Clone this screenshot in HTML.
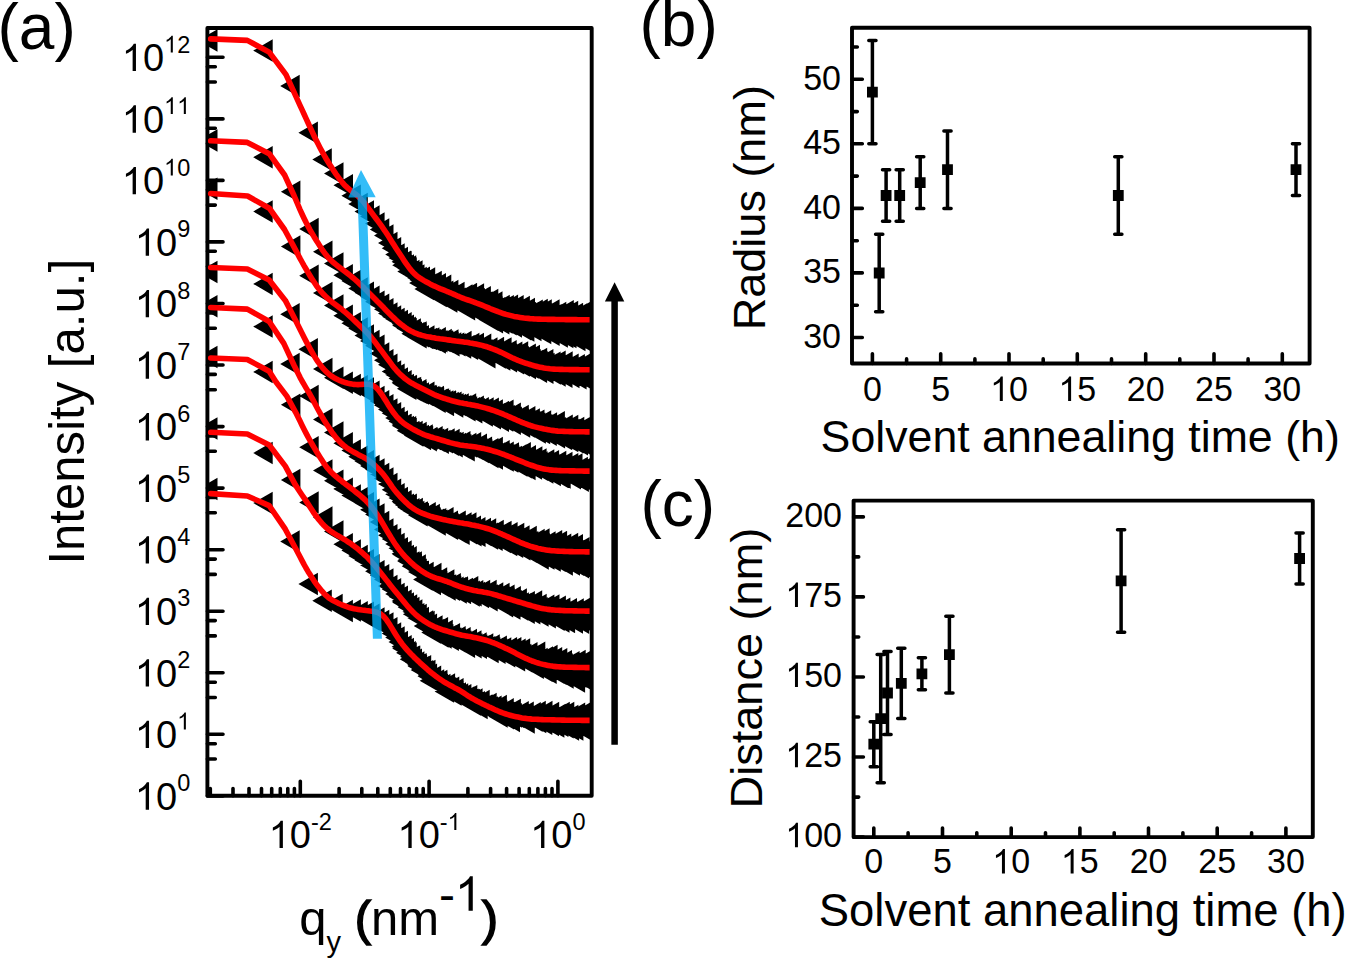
<!DOCTYPE html><html><head><meta charset="utf-8"><style>html,body{margin:0;padding:0;background:#fff;overflow:hidden}svg{display:block}</style></head><body><svg width="1346" height="959" viewBox="0 0 1346 959" font-family="Liberation Sans, sans-serif" fill="#000">
<rect width="1346" height="959" fill="#fff"/>
<defs><clipPath id="ca"><rect x="207.4" y="28.0" width="384.30000000000007" height="767.8"/></clipPath><clipPath id="cr"><rect x="200" y="28.0" width="389.6" height="767.8"/></clipPath></defs>
<path d="M207.4,795.9H223.0 M207.4,734.3H223.0 M207.4,743.7H215.3 M207.4,759.0H215.3 M207.4,672.8H223.0 M207.4,682.2H215.3 M207.4,697.5H215.3 M207.4,611.2H223.0 M207.4,620.6H215.3 M207.4,635.9H215.3 M207.4,549.7H223.0 M207.4,559.1H215.3 M207.4,574.4H215.3 M207.4,488.1H223.0 M207.4,497.5H215.3 M207.4,512.8H215.3 M207.4,426.6H223.0 M207.4,436.0H215.3 M207.4,451.3H215.3 M207.4,365.0H223.0 M207.4,374.4H215.3 M207.4,389.7H215.3 M207.4,303.5H223.0 M207.4,312.9H215.3 M207.4,328.2H215.3 M207.4,241.9H223.0 M207.4,251.3H215.3 M207.4,266.6H215.3 M207.4,180.4H223.0 M207.4,189.8H215.3 M207.4,205.1H215.3 M207.4,118.9H223.0 M207.4,128.3H215.3 M207.4,143.6H215.3 M207.4,57.3H223.0 M207.4,66.7H215.3 M207.4,82.0H215.3 M210.3,795.8V788.5 M233.0,795.8V788.5 M249.0,795.8V788.5 M261.5,795.8V788.5 M271.7,795.8V788.5 M280.3,795.8V788.5 M287.8,795.8V788.5 M294.4,795.8V788.5 M300.3,795.8V781.2 M339.1,795.8V788.5 M361.8,795.8V788.5 M377.8,795.8V788.5 M390.3,795.8V788.5 M400.5,795.8V788.5 M409.1,795.8V788.5 M416.6,795.8V788.5 M423.2,795.8V788.5 M429.1,795.8V781.2 M467.9,795.8V788.5 M490.6,795.8V788.5 M506.6,795.8V788.5 M519.1,795.8V788.5 M529.3,795.8V788.5 M537.9,795.8V788.5 M545.4,795.8V788.5 M552.0,795.8V788.5 M557.9,795.8V781.2 M852.0,337.5H862.3 M852.0,272.9H862.3 M852.0,208.4H862.3 M852.0,143.8H862.3 M852.0,79.3H862.3 M852.0,305.2H857.3 M852.0,240.7H857.3 M852.0,176.1H857.3 M852.0,111.6H857.3 M852.0,47.0H857.3 M872.4,363.5V353.7 M940.7,363.5V353.7 M1009.0,363.5V353.7 M1077.3,363.5V353.7 M1145.7,363.5V353.7 M1214.0,363.5V353.7 M1282.3,363.5V353.7 M906.6,363.5V358.9 M974.9,363.5V358.9 M1043.2,363.5V358.9 M1111.5,363.5V358.9 M1179.8,363.5V358.9 M1248.1,363.5V358.9 M853.6,837.1H863.4 M853.6,757.0H863.4 M853.6,677.0H863.4 M853.6,596.9H863.4 M853.6,516.9H863.4 M853.6,797.1H858.7 M853.6,717.0H858.7 M853.6,637.0H858.7 M853.6,556.9H858.7 M873.8,837.1V828.0 M942.5,837.1V828.0 M1011.2,837.1V828.0 M1079.9,837.1V828.0 M1148.5,837.1V828.0 M1217.2,837.1V828.0 M1285.9,837.1V828.0 M908.1,837.1V832.7 M976.8,837.1V832.7 M1045.5,837.1V832.7 M1114.2,837.1V832.7 M1182.9,837.1V832.7 M1251.6,837.1V832.7" stroke="#000" stroke-width="3.6" stroke-linecap="round" fill="none"/>
<path d="M207.4,28.0H591.7V795.8H207.4Z M852.0,27.7H1309.6V363.5H852.0Z M853.6,500.6H1312.8V837.1H853.6Z" stroke="#000" stroke-width="3.9" stroke-linejoin="round" fill="none"/>
<g clip-path="url(#ca)"><path d="M198.0,40.5l19.5,-11.25v22.5z M253.2,50.6l19.5,-11.25v22.5z M280.2,86.1l19.5,-11.25v22.5z M298.4,132.8l19.5,-11.25v22.5z M312.3,159.4l19.5,-11.25v22.5z M324.0,173.6l19.5,-11.25v22.5z M333.5,185.3l19.5,-11.25v22.5z M341.4,195.7l19.5,-11.25v22.5z M348.3,204.0l19.5,-11.25v22.5z M354.5,211.6l19.5,-11.25v22.5z M360.1,216.4l19.5,-11.25v22.5z M365.1,223.4l19.5,-11.25v22.5z M369.8,229.4l19.5,-11.25v22.5z M374.0,235.6l19.5,-11.25v22.5z M378.0,243.1l19.5,-11.25v22.5z M381.7,248.3l19.5,-11.25v22.5z M385.2,254.4l19.5,-11.25v22.5z M388.5,258.1l19.5,-11.25v22.5z M391.6,261.7l19.5,-11.25v22.5z M394.5,265.6l19.5,-11.25v22.5z M394.5,265.6l19.5,-11.25v22.5z M397.3,268.4l19.5,-11.25v22.5z M397.3,268.4l19.5,-11.25v22.5z M400.0,271.0l19.5,-11.25v22.5z M400.0,271.0l19.5,-11.25v22.5z M402.5,273.5l19.5,-11.25v22.5z M402.5,273.5l19.5,-11.25v22.5z M404.9,275.9l19.5,-11.25v22.5z M404.9,275.9l19.5,-11.25v22.5z M407.3,278.0l19.5,-11.25v22.5z M407.3,278.0l19.5,-11.25v22.5z M409.5,279.9l19.5,-11.25v22.5z M409.5,279.9l19.5,-11.25v22.5z M413.7,282.9l19.5,-11.25v22.5z M413.7,283.0l19.5,-11.25v22.5z M417.6,284.4l19.5,-11.25v22.5z M417.6,286.3l19.5,-11.25v22.5z M421.3,285.5l19.5,-11.25v22.5z M421.3,289.0l19.5,-11.25v22.5z M424.7,286.7l19.5,-11.25v22.5z M424.7,291.2l19.5,-11.25v22.5z M428.0,288.0l19.5,-11.25v22.5z M428.0,292.7l19.5,-11.25v22.5z M431.0,289.7l19.5,-11.25v22.5z M431.0,294.0l19.5,-11.25v22.5z M433.9,291.7l19.5,-11.25v22.5z M433.9,295.2l19.5,-11.25v22.5z M436.7,294.0l19.5,-11.25v22.5z M436.7,296.3l19.5,-11.25v22.5z M439.3,296.0l19.5,-11.25v22.5z M439.3,297.3l19.5,-11.25v22.5z M441.8,297.4l19.5,-11.25v22.5z M441.8,298.2l19.5,-11.25v22.5z M444.2,298.3l19.5,-11.25v22.5z M444.2,299.2l19.5,-11.25v22.5z M446.5,298.7l19.5,-11.25v22.5z M446.5,300.1l19.5,-11.25v22.5z M448.7,298.8l19.5,-11.25v22.5z M448.7,300.9l19.5,-11.25v22.5z M451.9,298.6l19.5,-11.25v22.5z M451.9,302.2l19.5,-11.25v22.5z M454.9,298.3l19.5,-11.25v22.5z M454.9,303.5l19.5,-11.25v22.5z M457.7,298.1l19.5,-11.25v22.5z M457.7,304.7l19.5,-11.25v22.5z M460.4,298.2l19.5,-11.25v22.5z M460.4,306.0l19.5,-11.25v22.5z M463.0,298.5l19.5,-11.25v22.5z M463.0,307.2l19.5,-11.25v22.5z M465.5,299.2l19.5,-11.25v22.5z M465.5,308.5l19.5,-11.25v22.5z M467.9,300.0l19.5,-11.25v22.5z M467.9,309.7l19.5,-11.25v22.5z M470.1,301.1l19.5,-11.25v22.5z M470.1,310.9l19.5,-11.25v22.5z M473.0,302.5l19.5,-11.25v22.5z M473.0,312.4l19.5,-11.25v22.5z M475.8,303.9l19.5,-11.25v22.5z M475.8,313.7l19.5,-11.25v22.5z M478.4,305.3l19.5,-11.25v22.5z M478.4,314.8l19.5,-11.25v22.5z M480.9,306.5l19.5,-11.25v22.5z M480.9,315.8l19.5,-11.25v22.5z M483.3,307.5l19.5,-11.25v22.5z M483.3,316.5l19.5,-11.25v22.5z M485.6,308.3l19.5,-11.25v22.5z M485.6,317.2l19.5,-11.25v22.5z M487.8,308.9l19.5,-11.25v22.5z M487.8,317.8l19.5,-11.25v22.5z M490.4,309.5l19.5,-11.25v22.5z M490.4,318.6l19.5,-11.25v22.5z M492.9,310.0l19.5,-11.25v22.5z M492.9,319.3l19.5,-11.25v22.5z M495.3,310.4l19.5,-11.25v22.5z M495.3,320.0l19.5,-11.25v22.5z M497.6,310.7l19.5,-11.25v22.5z M497.6,320.7l19.5,-11.25v22.5z M499.8,311.0l19.5,-11.25v22.5z M499.8,321.3l19.5,-11.25v22.5z M502.4,311.4l19.5,-11.25v22.5z M502.4,322.0l19.5,-11.25v22.5z M504.8,311.7l19.5,-11.25v22.5z M504.8,322.6l19.5,-11.25v22.5z M507.2,312.0l19.5,-11.25v22.5z M507.2,323.2l19.5,-11.25v22.5z M509.4,312.3l19.5,-11.25v22.5z M509.4,323.8l19.5,-11.25v22.5z M511.9,312.5l19.5,-11.25v22.5z M511.9,324.4l19.5,-11.25v22.5z M514.3,312.8l19.5,-11.25v22.5z M514.3,324.9l19.5,-11.25v22.5z M516.6,313.0l19.5,-11.25v22.5z M516.6,325.4l19.5,-11.25v22.5z M518.8,313.3l19.5,-11.25v22.5z M518.8,325.9l19.5,-11.25v22.5z M521.3,313.5l19.5,-11.25v22.5z M521.3,326.4l19.5,-11.25v22.5z M523.6,313.7l19.5,-11.25v22.5z M523.6,326.9l19.5,-11.25v22.5z M525.8,313.9l19.5,-11.25v22.5z M525.8,327.3l19.5,-11.25v22.5z M528.2,314.1l19.5,-11.25v22.5z M528.2,327.8l19.5,-11.25v22.5z M530.5,314.3l19.5,-11.25v22.5z M530.5,328.3l19.5,-11.25v22.5z M532.8,314.5l19.5,-11.25v22.5z M532.8,328.7l19.5,-11.25v22.5z M535.1,314.7l19.5,-11.25v22.5z M535.1,329.2l19.5,-11.25v22.5z M537.4,314.9l19.5,-11.25v22.5z M537.4,329.6l19.5,-11.25v22.5z M539.8,315.1l19.5,-11.25v22.5z M539.8,330.1l19.5,-11.25v22.5z M542.1,315.3l19.5,-11.25v22.5z M542.1,330.6l19.5,-11.25v22.5z M544.3,315.5l19.5,-11.25v22.5z M544.3,331.0l19.5,-11.25v22.5z M546.6,315.7l19.5,-11.25v22.5z M546.6,331.5l19.5,-11.25v22.5z M548.8,315.8l19.5,-11.25v22.5z M548.8,331.9l19.5,-11.25v22.5z M551.1,316.0l19.5,-11.25v22.5z M551.1,332.4l19.5,-11.25v22.5z M553.3,316.2l19.5,-11.25v22.5z M553.3,332.9l19.5,-11.25v22.5z M555.6,316.4l19.5,-11.25v22.5z M555.6,333.4l19.5,-11.25v22.5z M557.8,316.6l19.5,-11.25v22.5z M557.8,333.9l19.5,-11.25v22.5z M560.1,316.8l19.5,-11.25v22.5z M560.1,334.5l19.5,-11.25v22.5z M562.4,317.0l19.5,-11.25v22.5z M562.4,326.0l19.5,-11.25v22.5z M562.4,335.0l19.5,-11.25v22.5z M564.7,317.2l19.5,-11.25v22.5z M564.7,326.4l19.5,-11.25v22.5z M564.7,335.6l19.5,-11.25v22.5z M566.9,317.5l19.5,-11.25v22.5z M566.9,326.8l19.5,-11.25v22.5z M566.9,336.2l19.5,-11.25v22.5z M569.2,317.7l19.5,-11.25v22.5z M569.2,327.3l19.5,-11.25v22.5z M569.2,336.8l19.5,-11.25v22.5z M571.5,317.9l19.5,-11.25v22.5z M571.5,327.7l19.5,-11.25v22.5z M571.5,337.5l19.5,-11.25v22.5z M573.7,318.0l19.5,-11.25v22.5z M573.7,327.9l19.5,-11.25v22.5z M573.7,337.8l19.5,-11.25v22.5z M576.0,318.0l19.5,-11.25v22.5z M576.0,327.9l19.5,-11.25v22.5z M576.0,337.8l19.5,-11.25v22.5z M578.3,318.0l19.5,-11.25v22.5z M578.3,327.9l19.5,-11.25v22.5z M578.3,337.8l19.5,-11.25v22.5z M580.5,318.0l19.5,-11.25v22.5z M580.5,327.9l19.5,-11.25v22.5z M580.5,337.8l19.5,-11.25v22.5z M582.7,318.0l19.5,-11.25v22.5z M582.7,327.9l19.5,-11.25v22.5z M582.7,337.8l19.5,-11.25v22.5z M584.9,318.0l19.5,-11.25v22.5z M584.9,327.9l19.5,-11.25v22.5z M584.9,337.8l19.5,-11.25v22.5z M392.2,262.2l19.5,-11.25v22.5z M392.2,265.3l19.5,-11.25v22.5z M396.7,266.6l19.5,-11.25v22.5z M397.3,271.4l19.5,-11.25v22.5z M403.1,271.4l19.5,-11.25v22.5z M405.0,275.5l19.5,-11.25v22.5z M410.5,277.7l19.5,-11.25v22.5z M409.1,283.1l19.5,-11.25v22.5z M415.7,278.5l19.5,-11.25v22.5z M414.4,289.1l19.5,-11.25v22.5z M422.3,282.1l19.5,-11.25v22.5z M422.5,292.5l19.5,-11.25v22.5z M426.5,284.2l19.5,-11.25v22.5z M427.2,295.9l19.5,-11.25v22.5z M431.8,285.7l19.5,-11.25v22.5z M431.6,297.8l19.5,-11.25v22.5z M438.9,290.9l19.5,-11.25v22.5z M437.9,301.5l19.5,-11.25v22.5z M445.1,293.1l19.5,-11.25v22.5z M446.0,302.9l19.5,-11.25v22.5z M453.0,295.6l19.5,-11.25v22.5z M452.6,307.6l19.5,-11.25v22.5z M457.6,294.0l19.5,-11.25v22.5z M455.7,309.3l19.5,-11.25v22.5z M464.6,294.5l19.5,-11.25v22.5z M466.1,311.6l19.5,-11.25v22.5z M471.4,297.2l19.5,-11.25v22.5z M471.7,315.6l19.5,-11.25v22.5z M478.8,299.9l19.5,-11.25v22.5z M478.7,319.7l19.5,-11.25v22.5z M483.0,302.6l19.5,-11.25v22.5z M483.6,322.2l19.5,-11.25v22.5z M490.3,306.1l19.5,-11.25v22.5z M489.9,323.3l19.5,-11.25v22.5z M494.4,306.2l19.5,-11.25v22.5z M493.1,322.6l19.5,-11.25v22.5z M498.6,305.8l19.5,-11.25v22.5z M497.2,324.3l19.5,-11.25v22.5z M504.2,306.2l19.5,-11.25v22.5z M502.5,326.4l19.5,-11.25v22.5z M510.4,306.9l19.5,-11.25v22.5z M511.7,329.3l19.5,-11.25v22.5z M515.5,309.0l19.5,-11.25v22.5z M514.9,330.6l19.5,-11.25v22.5z M523.3,310.7l19.5,-11.25v22.5z M522.0,330.1l19.5,-11.25v22.5z M528.3,310.0l19.5,-11.25v22.5z M528.6,331.2l19.5,-11.25v22.5z M532.3,310.6l19.5,-11.25v22.5z M531.8,333.0l19.5,-11.25v22.5z M540.1,310.4l19.5,-11.25v22.5z M540.2,334.7l19.5,-11.25v22.5z M546.8,313.0l19.5,-11.25v22.5z M548.4,336.6l19.5,-11.25v22.5z M554.3,311.2l19.5,-11.25v22.5z M553.9,336.9l19.5,-11.25v22.5z M558.7,312.1l19.5,-11.25v22.5z M557.0,336.9l19.5,-11.25v22.5z M563.6,314.1l19.5,-11.25v22.5z M562.9,338.0l19.5,-11.25v22.5z M567.6,314.5l19.5,-11.25v22.5z M566.0,340.1l19.5,-11.25v22.5z M571.7,312.6l19.5,-11.25v22.5z M572.1,340.5l19.5,-11.25v22.5z M576.7,314.4l19.5,-11.25v22.5z M576.1,340.7l19.5,-11.25v22.5z M584.1,312.3l19.5,-11.25v22.5z M583.9,341.9l19.5,-11.25v22.5z M588.4,315.2l19.5,-11.25v22.5z M587.8,341.1l19.5,-11.25v22.5z M198.0,140.5l19.5,-11.25v22.5z M253.2,157.2l19.5,-11.25v22.5z M280.9,191.8l19.5,-11.25v22.5z M299.2,229.0l19.5,-11.25v22.5z M313.0,251.7l19.5,-11.25v22.5z M324.0,263.4l19.5,-11.25v22.5z M333.4,275.2l19.5,-11.25v22.5z M341.4,281.1l19.5,-11.25v22.5z M348.3,288.6l19.5,-11.25v22.5z M354.5,292.8l19.5,-11.25v22.5z M360.1,296.7l19.5,-11.25v22.5z M365.1,301.8l19.5,-11.25v22.5z M369.8,304.7l19.5,-11.25v22.5z M374.0,309.3l19.5,-11.25v22.5z M378.0,313.6l19.5,-11.25v22.5z M381.7,316.5l19.5,-11.25v22.5z M385.2,319.1l19.5,-11.25v22.5z M388.5,321.0l19.5,-11.25v22.5z M391.6,323.7l19.5,-11.25v22.5z M394.5,325.7l19.5,-11.25v22.5z M397.3,329.0l19.5,-11.25v22.5z M400.0,330.4l19.5,-11.25v22.5z M402.5,332.7l19.5,-11.25v22.5z M404.9,333.3l19.5,-11.25v22.5z M407.3,334.3l19.5,-11.25v22.5z M409.5,336.3l19.5,-11.25v22.5z M413.7,338.1l19.5,-11.25v22.5z M417.6,339.0l19.5,-11.25v22.5z M421.3,339.9l19.5,-11.25v22.5z M424.7,340.7l19.5,-11.25v22.5z M428.0,341.3l19.5,-11.25v22.5z M431.0,340.9l19.5,-11.25v22.5z M433.9,342.1l19.5,-11.25v22.5z M433.9,342.1l19.5,-11.25v22.5z M436.7,342.6l19.5,-11.25v22.5z M436.7,342.6l19.5,-11.25v22.5z M439.3,343.1l19.5,-11.25v22.5z M439.3,343.1l19.5,-11.25v22.5z M441.8,343.6l19.5,-11.25v22.5z M441.8,343.6l19.5,-11.25v22.5z M444.2,344.1l19.5,-11.25v22.5z M444.2,344.1l19.5,-11.25v22.5z M446.5,344.5l19.5,-11.25v22.5z M446.5,344.5l19.5,-11.25v22.5z M448.7,345.0l19.5,-11.25v22.5z M448.7,345.0l19.5,-11.25v22.5z M451.9,345.6l19.5,-11.25v22.5z M451.9,345.6l19.5,-11.25v22.5z M454.9,346.2l19.5,-11.25v22.5z M454.9,346.2l19.5,-11.25v22.5z M457.7,346.8l19.5,-11.25v22.5z M457.7,346.8l19.5,-11.25v22.5z M460.4,347.4l19.5,-11.25v22.5z M460.4,347.4l19.5,-11.25v22.5z M463.0,348.0l19.5,-11.25v22.5z M463.0,348.0l19.5,-11.25v22.5z M465.5,348.5l19.5,-11.25v22.5z M465.5,348.5l19.5,-11.25v22.5z M467.9,349.0l19.5,-11.25v22.5z M467.9,349.0l19.5,-11.25v22.5z M470.1,349.6l19.5,-11.25v22.5z M470.1,349.6l19.5,-11.25v22.5z M473.0,350.2l19.5,-11.25v22.5z M473.0,350.2l19.5,-11.25v22.5z M475.8,350.9l19.5,-11.25v22.5z M475.8,350.9l19.5,-11.25v22.5z M478.4,351.4l19.5,-11.25v22.5z M478.4,351.6l19.5,-11.25v22.5z M480.9,351.8l19.5,-11.25v22.5z M480.9,352.4l19.5,-11.25v22.5z M483.3,352.2l19.5,-11.25v22.5z M483.3,353.2l19.5,-11.25v22.5z M485.6,352.5l19.5,-11.25v22.5z M485.6,353.9l19.5,-11.25v22.5z M487.8,352.9l19.5,-11.25v22.5z M487.8,354.7l19.5,-11.25v22.5z M490.4,353.4l19.5,-11.25v22.5z M490.4,355.5l19.5,-11.25v22.5z M492.9,353.8l19.5,-11.25v22.5z M492.9,356.4l19.5,-11.25v22.5z M495.3,354.3l19.5,-11.25v22.5z M495.3,357.2l19.5,-11.25v22.5z M497.6,354.7l19.5,-11.25v22.5z M497.6,357.9l19.5,-11.25v22.5z M499.8,355.1l19.5,-11.25v22.5z M499.8,358.6l19.5,-11.25v22.5z M502.4,355.7l19.5,-11.25v22.5z M502.4,359.5l19.5,-11.25v22.5z M504.8,356.2l19.5,-11.25v22.5z M504.8,360.3l19.5,-11.25v22.5z M507.2,356.7l19.5,-11.25v22.5z M507.2,361.0l19.5,-11.25v22.5z M509.4,357.2l19.5,-11.25v22.5z M509.4,361.7l19.5,-11.25v22.5z M511.9,357.8l19.5,-11.25v22.5z M511.9,362.5l19.5,-11.25v22.5z M514.3,358.4l19.5,-11.25v22.5z M514.3,363.2l19.5,-11.25v22.5z M516.6,359.0l19.5,-11.25v22.5z M516.6,363.9l19.5,-11.25v22.5z M518.8,359.6l19.5,-11.25v22.5z M518.8,364.5l19.5,-11.25v22.5z M521.3,360.2l19.5,-11.25v22.5z M521.3,365.2l19.5,-11.25v22.5z M523.6,360.9l19.5,-11.25v22.5z M523.6,365.8l19.5,-11.25v22.5z M525.8,361.5l19.5,-11.25v22.5z M525.8,366.4l19.5,-11.25v22.5z M528.2,362.2l19.5,-11.25v22.5z M528.2,367.1l19.5,-11.25v22.5z M530.5,362.8l19.5,-11.25v22.5z M530.5,367.7l19.5,-11.25v22.5z M532.8,363.4l19.5,-11.25v22.5z M532.8,368.2l19.5,-11.25v22.5z M535.1,364.1l19.5,-11.25v22.5z M535.1,368.7l19.5,-11.25v22.5z M537.4,364.7l19.5,-11.25v22.5z M537.4,369.3l19.5,-11.25v22.5z M539.8,365.3l19.5,-11.25v22.5z M539.8,369.8l19.5,-11.25v22.5z M542.1,365.8l19.5,-11.25v22.5z M542.1,370.2l19.5,-11.25v22.5z M544.3,366.4l19.5,-11.25v22.5z M544.3,370.7l19.5,-11.25v22.5z M546.6,366.9l19.5,-11.25v22.5z M546.6,371.1l19.5,-11.25v22.5z M548.8,367.3l19.5,-11.25v22.5z M548.8,371.5l19.5,-11.25v22.5z M551.1,367.8l19.5,-11.25v22.5z M551.1,371.8l19.5,-11.25v22.5z M553.3,368.1l19.5,-11.25v22.5z M553.3,372.2l19.5,-11.25v22.5z M555.6,368.5l19.5,-11.25v22.5z M555.6,372.5l19.5,-11.25v22.5z M557.8,368.7l19.5,-11.25v22.5z M557.8,372.7l19.5,-11.25v22.5z M560.1,369.0l19.5,-11.25v22.5z M560.1,373.0l19.5,-11.25v22.5z M562.4,369.2l19.5,-11.25v22.5z M562.4,373.2l19.5,-11.25v22.5z M564.7,369.3l19.5,-11.25v22.5z M564.7,373.3l19.5,-11.25v22.5z M566.9,369.3l19.5,-11.25v22.5z M566.9,373.5l19.5,-11.25v22.5z M569.2,369.3l19.5,-11.25v22.5z M569.2,373.6l19.5,-11.25v22.5z M571.5,369.2l19.5,-11.25v22.5z M571.5,373.6l19.5,-11.25v22.5z M573.7,369.1l19.5,-11.25v22.5z M573.7,373.7l19.5,-11.25v22.5z M576.0,369.1l19.5,-11.25v22.5z M576.0,373.7l19.5,-11.25v22.5z M578.3,369.1l19.5,-11.25v22.5z M578.3,373.7l19.5,-11.25v22.5z M580.5,369.1l19.5,-11.25v22.5z M580.5,373.7l19.5,-11.25v22.5z M582.7,369.1l19.5,-11.25v22.5z M582.7,373.7l19.5,-11.25v22.5z M584.9,369.1l19.5,-11.25v22.5z M584.9,373.7l19.5,-11.25v22.5z M392.2,323.2l19.5,-11.25v22.5z M392.2,325.4l19.5,-11.25v22.5z M396.4,327.7l19.5,-11.25v22.5z M396.4,328.4l19.5,-11.25v22.5z M401.4,329.6l19.5,-11.25v22.5z M401.4,333.8l19.5,-11.25v22.5z M407.2,332.5l19.5,-11.25v22.5z M407.2,337.3l19.5,-11.25v22.5z M415.0,336.6l19.5,-11.25v22.5z M415.0,338.1l19.5,-11.25v22.5z M419.9,338.4l19.5,-11.25v22.5z M419.9,339.4l19.5,-11.25v22.5z M426.4,338.2l19.5,-11.25v22.5z M426.4,342.6l19.5,-11.25v22.5z M432.3,340.1l19.5,-11.25v22.5z M433.5,341.5l19.5,-11.25v22.5z M439.0,340.4l19.5,-11.25v22.5z M440.1,345.2l19.5,-11.25v22.5z M444.9,343.7l19.5,-11.25v22.5z M446.0,345.2l19.5,-11.25v22.5z M452.1,342.0l19.5,-11.25v22.5z M451.7,347.4l19.5,-11.25v22.5z M459.9,343.9l19.5,-11.25v22.5z M458.6,348.7l19.5,-11.25v22.5z M464.5,343.9l19.5,-11.25v22.5z M465.7,350.1l19.5,-11.25v22.5z M471.8,344.7l19.5,-11.25v22.5z M472.4,353.1l19.5,-11.25v22.5z M478.0,348.4l19.5,-11.25v22.5z M476.0,357.2l19.5,-11.25v22.5z M484.6,348.1l19.5,-11.25v22.5z M486.3,357.6l19.5,-11.25v22.5z M492.1,348.4l19.5,-11.25v22.5z M490.9,359.4l19.5,-11.25v22.5z M497.2,351.3l19.5,-11.25v22.5z M497.6,361.2l19.5,-11.25v22.5z M502.9,352.8l19.5,-11.25v22.5z M504.6,363.3l19.5,-11.25v22.5z M508.7,352.6l19.5,-11.25v22.5z M510.4,365.4l19.5,-11.25v22.5z M516.4,354.8l19.5,-11.25v22.5z M516.5,368.0l19.5,-11.25v22.5z M520.5,356.1l19.5,-11.25v22.5z M519.2,367.5l19.5,-11.25v22.5z M527.7,359.0l19.5,-11.25v22.5z M527.6,371.8l19.5,-11.25v22.5z M533.9,360.2l19.5,-11.25v22.5z M534.0,372.8l19.5,-11.25v22.5z M541.1,362.7l19.5,-11.25v22.5z M541.3,373.4l19.5,-11.25v22.5z M546.2,361.7l19.5,-11.25v22.5z M546.2,375.4l19.5,-11.25v22.5z M553.2,362.6l19.5,-11.25v22.5z M553.0,376.7l19.5,-11.25v22.5z M559.2,364.7l19.5,-11.25v22.5z M560.0,376.9l19.5,-11.25v22.5z M565.4,365.2l19.5,-11.25v22.5z M567.1,378.2l19.5,-11.25v22.5z M572.9,363.5l19.5,-11.25v22.5z M571.9,378.0l19.5,-11.25v22.5z M580.6,363.8l19.5,-11.25v22.5z M579.2,376.6l19.5,-11.25v22.5z M586.4,366.4l19.5,-11.25v22.5z M585.4,376.4l19.5,-11.25v22.5z M198.0,188.8l19.5,-11.25v22.5z M253.2,211.5l19.5,-11.25v22.5z M280.9,246.6l19.5,-11.25v22.5z M299.2,275.7l19.5,-11.25v22.5z M313.0,293.0l19.5,-11.25v22.5z M324.0,305.5l19.5,-11.25v22.5z M333.4,315.7l19.5,-11.25v22.5z M341.4,323.3l19.5,-11.25v22.5z M348.3,328.4l19.5,-11.25v22.5z M354.5,335.4l19.5,-11.25v22.5z M360.1,340.9l19.5,-11.25v22.5z M365.1,345.7l19.5,-11.25v22.5z M369.8,353.5l19.5,-11.25v22.5z M374.0,360.2l19.5,-11.25v22.5z M378.0,364.7l19.5,-11.25v22.5z M381.7,371.4l19.5,-11.25v22.5z M385.2,374.7l19.5,-11.25v22.5z M388.5,378.6l19.5,-11.25v22.5z M391.6,382.7l19.5,-11.25v22.5z M394.5,385.0l19.5,-11.25v22.5z M397.3,385.9l19.5,-11.25v22.5z M400.0,388.6l19.5,-11.25v22.5z M400.0,388.6l19.5,-11.25v22.5z M402.5,390.2l19.5,-11.25v22.5z M402.5,390.2l19.5,-11.25v22.5z M404.9,391.4l19.5,-11.25v22.5z M404.9,391.4l19.5,-11.25v22.5z M407.3,392.4l19.5,-11.25v22.5z M407.3,392.4l19.5,-11.25v22.5z M409.5,393.4l19.5,-11.25v22.5z M409.5,393.4l19.5,-11.25v22.5z M413.7,395.0l19.5,-11.25v22.5z M413.7,395.0l19.5,-11.25v22.5z M417.6,396.4l19.5,-11.25v22.5z M417.6,396.4l19.5,-11.25v22.5z M421.3,397.7l19.5,-11.25v22.5z M421.3,397.7l19.5,-11.25v22.5z M424.7,398.8l19.5,-11.25v22.5z M424.7,398.8l19.5,-11.25v22.5z M428.0,399.8l19.5,-11.25v22.5z M428.0,399.8l19.5,-11.25v22.5z M431.0,400.7l19.5,-11.25v22.5z M431.0,400.7l19.5,-11.25v22.5z M433.9,401.6l19.5,-11.25v22.5z M433.9,401.6l19.5,-11.25v22.5z M436.7,402.3l19.5,-11.25v22.5z M436.7,402.3l19.5,-11.25v22.5z M439.3,403.0l19.5,-11.25v22.5z M439.3,403.0l19.5,-11.25v22.5z M441.8,403.7l19.5,-11.25v22.5z M441.8,403.7l19.5,-11.25v22.5z M444.2,404.3l19.5,-11.25v22.5z M444.2,404.3l19.5,-11.25v22.5z M446.5,404.9l19.5,-11.25v22.5z M446.5,404.9l19.5,-11.25v22.5z M448.7,405.4l19.5,-11.25v22.5z M448.7,405.4l19.5,-11.25v22.5z M451.9,406.2l19.5,-11.25v22.5z M451.9,406.2l19.5,-11.25v22.5z M454.9,406.9l19.5,-11.25v22.5z M454.9,406.9l19.5,-11.25v22.5z M457.7,407.5l19.5,-11.25v22.5z M457.7,407.5l19.5,-11.25v22.5z M460.4,408.2l19.5,-11.25v22.5z M460.4,408.2l19.5,-11.25v22.5z M463.0,408.7l19.5,-11.25v22.5z M463.0,408.7l19.5,-11.25v22.5z M465.5,409.3l19.5,-11.25v22.5z M465.5,409.3l19.5,-11.25v22.5z M467.9,409.8l19.5,-11.25v22.5z M467.9,409.8l19.5,-11.25v22.5z M470.1,410.4l19.5,-11.25v22.5z M470.1,410.4l19.5,-11.25v22.5z M473.0,411.0l19.5,-11.25v22.5z M473.0,411.0l19.5,-11.25v22.5z M475.8,411.7l19.5,-11.25v22.5z M475.8,411.7l19.5,-11.25v22.5z M478.4,412.3l19.5,-11.25v22.5z M478.4,412.3l19.5,-11.25v22.5z M480.9,412.9l19.5,-11.25v22.5z M480.9,412.9l19.5,-11.25v22.5z M483.3,413.4l19.5,-11.25v22.5z M483.3,413.4l19.5,-11.25v22.5z M485.6,414.0l19.5,-11.25v22.5z M485.6,414.0l19.5,-11.25v22.5z M487.8,414.6l19.5,-11.25v22.5z M487.8,414.6l19.5,-11.25v22.5z M490.4,415.1l19.5,-11.25v22.5z M490.4,415.3l19.5,-11.25v22.5z M492.9,415.7l19.5,-11.25v22.5z M492.9,416.1l19.5,-11.25v22.5z M495.3,416.2l19.5,-11.25v22.5z M495.3,416.9l19.5,-11.25v22.5z M497.6,416.7l19.5,-11.25v22.5z M497.6,417.6l19.5,-11.25v22.5z M499.8,417.2l19.5,-11.25v22.5z M499.8,418.4l19.5,-11.25v22.5z M502.4,417.8l19.5,-11.25v22.5z M502.4,419.2l19.5,-11.25v22.5z M504.8,418.4l19.5,-11.25v22.5z M504.8,420.1l19.5,-11.25v22.5z M507.2,419.0l19.5,-11.25v22.5z M507.2,420.9l19.5,-11.25v22.5z M509.4,419.5l19.5,-11.25v22.5z M509.4,421.7l19.5,-11.25v22.5z M511.9,420.2l19.5,-11.25v22.5z M511.9,422.5l19.5,-11.25v22.5z M514.3,420.8l19.5,-11.25v22.5z M514.3,423.4l19.5,-11.25v22.5z M516.6,421.4l19.5,-11.25v22.5z M516.6,424.2l19.5,-11.25v22.5z M518.8,421.9l19.5,-11.25v22.5z M518.8,425.0l19.5,-11.25v22.5z M521.3,422.5l19.5,-11.25v22.5z M521.3,425.8l19.5,-11.25v22.5z M523.6,423.1l19.5,-11.25v22.5z M523.6,426.7l19.5,-11.25v22.5z M525.8,423.7l19.5,-11.25v22.5z M525.8,427.4l19.5,-11.25v22.5z M528.2,424.2l19.5,-11.25v22.5z M528.2,428.3l19.5,-11.25v22.5z M530.5,424.8l19.5,-11.25v22.5z M530.5,429.1l19.5,-11.25v22.5z M532.8,425.3l19.5,-11.25v22.5z M532.8,429.8l19.5,-11.25v22.5z M535.1,425.8l19.5,-11.25v22.5z M535.1,430.7l19.5,-11.25v22.5z M537.4,426.3l19.5,-11.25v22.5z M537.4,431.4l19.5,-11.25v22.5z M539.8,426.9l19.5,-11.25v22.5z M539.8,432.2l19.5,-11.25v22.5z M542.1,427.3l19.5,-11.25v22.5z M542.1,433.0l19.5,-11.25v22.5z M544.3,427.8l19.5,-11.25v22.5z M544.3,433.7l19.5,-11.25v22.5z M546.6,428.2l19.5,-11.25v22.5z M546.6,434.4l19.5,-11.25v22.5z M548.8,428.6l19.5,-11.25v22.5z M548.8,435.1l19.5,-11.25v22.5z M551.1,429.0l19.5,-11.25v22.5z M551.1,435.8l19.5,-11.25v22.5z M553.3,429.3l19.5,-11.25v22.5z M553.3,436.4l19.5,-11.25v22.5z M555.6,429.6l19.5,-11.25v22.5z M555.6,437.1l19.5,-11.25v22.5z M557.8,429.9l19.5,-11.25v22.5z M557.8,437.7l19.5,-11.25v22.5z M560.1,430.1l19.5,-11.25v22.5z M560.1,438.3l19.5,-11.25v22.5z M562.4,430.4l19.5,-11.25v22.5z M562.4,438.9l19.5,-11.25v22.5z M564.7,430.6l19.5,-11.25v22.5z M564.7,439.5l19.5,-11.25v22.5z M566.9,430.7l19.5,-11.25v22.5z M566.9,440.0l19.5,-11.25v22.5z M569.2,430.8l19.5,-11.25v22.5z M569.2,440.5l19.5,-11.25v22.5z M571.5,430.9l19.5,-11.25v22.5z M571.5,441.0l19.5,-11.25v22.5z M573.7,430.9l19.5,-11.25v22.5z M573.7,441.2l19.5,-11.25v22.5z M576.0,430.9l19.5,-11.25v22.5z M576.0,441.2l19.5,-11.25v22.5z M578.3,430.9l19.5,-11.25v22.5z M578.3,441.2l19.5,-11.25v22.5z M580.5,430.9l19.5,-11.25v22.5z M580.5,441.2l19.5,-11.25v22.5z M582.7,430.9l19.5,-11.25v22.5z M582.7,441.2l19.5,-11.25v22.5z M584.9,430.9l19.5,-11.25v22.5z M584.9,441.2l19.5,-11.25v22.5z M392.2,381.2l19.5,-11.25v22.5z M392.2,383.6l19.5,-11.25v22.5z M397.6,386.7l19.5,-11.25v22.5z M396.9,388.7l19.5,-11.25v22.5z M401.7,387.9l19.5,-11.25v22.5z M401.4,389.8l19.5,-11.25v22.5z M407.0,390.2l19.5,-11.25v22.5z M407.1,392.5l19.5,-11.25v22.5z M415.0,392.8l19.5,-11.25v22.5z M416.8,395.9l19.5,-11.25v22.5z M420.0,397.0l19.5,-11.25v22.5z M421.1,398.3l19.5,-11.25v22.5z M424.5,397.1l19.5,-11.25v22.5z M426.2,401.7l19.5,-11.25v22.5z M429.6,399.4l19.5,-11.25v22.5z M431.2,402.6l19.5,-11.25v22.5z M436.4,401.4l19.5,-11.25v22.5z M434.6,405.1l19.5,-11.25v22.5z M442.1,402.8l19.5,-11.25v22.5z M443.8,406.6l19.5,-11.25v22.5z M449.3,404.4l19.5,-11.25v22.5z M450.7,406.7l19.5,-11.25v22.5z M456.7,404.6l19.5,-11.25v22.5z M456.1,410.3l19.5,-11.25v22.5z M464.4,406.7l19.5,-11.25v22.5z M462.9,412.3l19.5,-11.25v22.5z M469.4,408.2l19.5,-11.25v22.5z M468.0,412.0l19.5,-11.25v22.5z M474.2,408.4l19.5,-11.25v22.5z M473.4,415.6l19.5,-11.25v22.5z M479.4,408.8l19.5,-11.25v22.5z M478.1,415.7l19.5,-11.25v22.5z M483.4,410.4l19.5,-11.25v22.5z M481.5,418.2l19.5,-11.25v22.5z M489.6,411.9l19.5,-11.25v22.5z M489.5,420.7l19.5,-11.25v22.5z M494.1,410.7l19.5,-11.25v22.5z M493.8,420.6l19.5,-11.25v22.5z M501.4,413.8l19.5,-11.25v22.5z M501.4,423.7l19.5,-11.25v22.5z M509.3,415.9l19.5,-11.25v22.5z M510.7,426.5l19.5,-11.25v22.5z M515.9,417.3l19.5,-11.25v22.5z M515.3,426.6l19.5,-11.25v22.5z M520.4,419.6l19.5,-11.25v22.5z M521.4,428.9l19.5,-11.25v22.5z M525.0,420.7l19.5,-11.25v22.5z M526.4,432.5l19.5,-11.25v22.5z M531.7,421.6l19.5,-11.25v22.5z M530.7,433.0l19.5,-11.25v22.5z M537.6,423.4l19.5,-11.25v22.5z M537.3,434.8l19.5,-11.25v22.5z M545.4,422.3l19.5,-11.25v22.5z M545.6,437.3l19.5,-11.25v22.5z M553.3,425.8l19.5,-11.25v22.5z M552.7,438.9l19.5,-11.25v22.5z M558.8,425.9l19.5,-11.25v22.5z M558.8,441.1l19.5,-11.25v22.5z M564.8,428.0l19.5,-11.25v22.5z M563.9,442.3l19.5,-11.25v22.5z M570.4,428.2l19.5,-11.25v22.5z M568.5,444.3l19.5,-11.25v22.5z M575.3,426.5l19.5,-11.25v22.5z M575.5,446.2l19.5,-11.25v22.5z M582.0,426.0l19.5,-11.25v22.5z M583.5,445.0l19.5,-11.25v22.5z M587.3,425.1l19.5,-11.25v22.5z M585.9,446.1l19.5,-11.25v22.5z M198.0,272.0l19.5,-11.25v22.5z M253.2,283.9l19.5,-11.25v22.5z M280.2,314.2l19.5,-11.25v22.5z M298.4,349.3l19.5,-11.25v22.5z M313.0,369.0l19.5,-11.25v22.5z M324.0,377.7l19.5,-11.25v22.5z M333.4,382.8l19.5,-11.25v22.5z M341.4,385.1l19.5,-11.25v22.5z M348.3,386.6l19.5,-11.25v22.5z M348.3,386.3l19.5,-11.25v22.5z M354.5,388.6l19.5,-11.25v22.5z M354.5,390.8l19.5,-11.25v22.5z M360.1,391.8l19.5,-11.25v22.5z M360.1,394.6l19.5,-11.25v22.5z M365.1,396.9l19.5,-11.25v22.5z M369.8,401.3l19.5,-11.25v22.5z M374.0,405.2l19.5,-11.25v22.5z M378.0,409.4l19.5,-11.25v22.5z M381.7,413.2l19.5,-11.25v22.5z M385.2,418.0l19.5,-11.25v22.5z M388.5,421.5l19.5,-11.25v22.5z M391.6,424.9l19.5,-11.25v22.5z M394.5,426.9l19.5,-11.25v22.5z M397.3,429.0l19.5,-11.25v22.5z M400.0,432.1l19.5,-11.25v22.5z M400.0,432.1l19.5,-11.25v22.5z M402.5,433.6l19.5,-11.25v22.5z M402.5,433.6l19.5,-11.25v22.5z M404.9,434.6l19.5,-11.25v22.5z M404.9,434.6l19.5,-11.25v22.5z M407.3,435.4l19.5,-11.25v22.5z M407.3,435.4l19.5,-11.25v22.5z M409.5,436.1l19.5,-11.25v22.5z M409.5,436.1l19.5,-11.25v22.5z M413.7,437.3l19.5,-11.25v22.5z M413.7,437.3l19.5,-11.25v22.5z M417.6,438.2l19.5,-11.25v22.5z M417.6,438.2l19.5,-11.25v22.5z M421.3,439.0l19.5,-11.25v22.5z M421.3,439.0l19.5,-11.25v22.5z M424.7,439.7l19.5,-11.25v22.5z M424.7,439.7l19.5,-11.25v22.5z M428.0,440.3l19.5,-11.25v22.5z M428.0,440.3l19.5,-11.25v22.5z M431.0,440.9l19.5,-11.25v22.5z M431.0,440.9l19.5,-11.25v22.5z M433.9,441.5l19.5,-11.25v22.5z M433.9,441.5l19.5,-11.25v22.5z M436.7,442.0l19.5,-11.25v22.5z M436.7,442.0l19.5,-11.25v22.5z M439.3,442.6l19.5,-11.25v22.5z M439.3,442.6l19.5,-11.25v22.5z M441.8,443.1l19.5,-11.25v22.5z M441.8,443.1l19.5,-11.25v22.5z M444.2,443.6l19.5,-11.25v22.5z M444.2,443.6l19.5,-11.25v22.5z M446.5,444.1l19.5,-11.25v22.5z M446.5,444.1l19.5,-11.25v22.5z M448.7,444.6l19.5,-11.25v22.5z M448.7,444.6l19.5,-11.25v22.5z M451.9,445.3l19.5,-11.25v22.5z M451.9,445.3l19.5,-11.25v22.5z M454.9,446.0l19.5,-11.25v22.5z M454.9,446.0l19.5,-11.25v22.5z M457.7,446.6l19.5,-11.25v22.5z M457.7,446.6l19.5,-11.25v22.5z M460.4,447.3l19.5,-11.25v22.5z M460.4,447.3l19.5,-11.25v22.5z M463.0,447.9l19.5,-11.25v22.5z M463.0,447.9l19.5,-11.25v22.5z M465.5,448.5l19.5,-11.25v22.5z M465.5,448.5l19.5,-11.25v22.5z M467.9,449.1l19.5,-11.25v22.5z M467.9,449.1l19.5,-11.25v22.5z M470.1,449.6l19.5,-11.25v22.5z M470.1,449.6l19.5,-11.25v22.5z M473.0,450.4l19.5,-11.25v22.5z M473.0,450.4l19.5,-11.25v22.5z M475.8,451.1l19.5,-11.25v22.5z M475.8,451.1l19.5,-11.25v22.5z M478.4,451.7l19.5,-11.25v22.5z M478.4,451.7l19.5,-11.25v22.5z M480.9,452.4l19.5,-11.25v22.5z M480.9,452.4l19.5,-11.25v22.5z M483.3,453.0l19.5,-11.25v22.5z M483.3,453.0l19.5,-11.25v22.5z M485.6,453.5l19.5,-11.25v22.5z M485.6,453.6l19.5,-11.25v22.5z M487.8,454.0l19.5,-11.25v22.5z M487.8,454.3l19.5,-11.25v22.5z M490.4,454.5l19.5,-11.25v22.5z M490.4,455.1l19.5,-11.25v22.5z M492.9,455.0l19.5,-11.25v22.5z M492.9,455.9l19.5,-11.25v22.5z M495.3,455.5l19.5,-11.25v22.5z M495.3,456.7l19.5,-11.25v22.5z M497.6,456.0l19.5,-11.25v22.5z M497.6,457.4l19.5,-11.25v22.5z M499.8,456.5l19.5,-11.25v22.5z M499.8,458.1l19.5,-11.25v22.5z M502.4,457.0l19.5,-11.25v22.5z M502.4,458.9l19.5,-11.25v22.5z M504.8,457.5l19.5,-11.25v22.5z M504.8,459.7l19.5,-11.25v22.5z M507.2,458.0l19.5,-11.25v22.5z M507.2,460.4l19.5,-11.25v22.5z M509.4,458.5l19.5,-11.25v22.5z M509.4,461.1l19.5,-11.25v22.5z M511.9,459.0l19.5,-11.25v22.5z M511.9,461.9l19.5,-11.25v22.5z M514.3,459.5l19.5,-11.25v22.5z M514.3,462.6l19.5,-11.25v22.5z M516.6,460.0l19.5,-11.25v22.5z M516.6,463.3l19.5,-11.25v22.5z M518.8,460.5l19.5,-11.25v22.5z M518.8,463.9l19.5,-11.25v22.5z M521.3,461.0l19.5,-11.25v22.5z M521.3,464.6l19.5,-11.25v22.5z M523.6,461.5l19.5,-11.25v22.5z M523.6,465.3l19.5,-11.25v22.5z M525.8,462.0l19.5,-11.25v22.5z M525.8,465.9l19.5,-11.25v22.5z M528.2,462.5l19.5,-11.25v22.5z M528.2,466.6l19.5,-11.25v22.5z M530.5,463.0l19.5,-11.25v22.5z M530.5,467.2l19.5,-11.25v22.5z M532.8,463.5l19.5,-11.25v22.5z M532.8,467.8l19.5,-11.25v22.5z M535.1,464.0l19.5,-11.25v22.5z M535.1,468.4l19.5,-11.25v22.5z M537.4,464.5l19.5,-11.25v22.5z M537.4,469.0l19.5,-11.25v22.5z M539.8,465.0l19.5,-11.25v22.5z M539.8,469.6l19.5,-11.25v22.5z M542.1,465.5l19.5,-11.25v22.5z M542.1,470.1l19.5,-11.25v22.5z M544.3,466.0l19.5,-11.25v22.5z M544.3,470.6l19.5,-11.25v22.5z M546.6,466.5l19.5,-11.25v22.5z M546.6,471.2l19.5,-11.25v22.5z M548.8,467.0l19.5,-11.25v22.5z M548.8,471.6l19.5,-11.25v22.5z M551.1,467.5l19.5,-11.25v22.5z M551.1,472.1l19.5,-11.25v22.5z M553.3,468.0l19.5,-11.25v22.5z M553.3,472.6l19.5,-11.25v22.5z M555.6,468.5l19.5,-11.25v22.5z M555.6,473.0l19.5,-11.25v22.5z M557.8,469.0l19.5,-11.25v22.5z M557.8,473.4l19.5,-11.25v22.5z M560.1,469.5l19.5,-11.25v22.5z M560.1,473.8l19.5,-11.25v22.5z M562.4,470.0l19.5,-11.25v22.5z M562.4,474.2l19.5,-11.25v22.5z M564.7,470.5l19.5,-11.25v22.5z M564.7,474.5l19.5,-11.25v22.5z M566.9,471.0l19.5,-11.25v22.5z M566.9,474.9l19.5,-11.25v22.5z M569.2,471.6l19.5,-11.25v22.5z M569.2,475.2l19.5,-11.25v22.5z M571.5,472.1l19.5,-11.25v22.5z M571.5,475.4l19.5,-11.25v22.5z M573.7,472.3l19.5,-11.25v22.5z M573.7,475.6l19.5,-11.25v22.5z M576.0,472.3l19.5,-11.25v22.5z M576.0,475.6l19.5,-11.25v22.5z M578.3,472.3l19.5,-11.25v22.5z M578.3,475.6l19.5,-11.25v22.5z M580.5,472.3l19.5,-11.25v22.5z M580.5,475.6l19.5,-11.25v22.5z M582.7,472.3l19.5,-11.25v22.5z M582.7,475.6l19.5,-11.25v22.5z M584.9,472.3l19.5,-11.25v22.5z M584.9,475.6l19.5,-11.25v22.5z M392.2,424.9l19.5,-11.25v22.5z M392.2,426.1l19.5,-11.25v22.5z M396.7,427.3l19.5,-11.25v22.5z M396.7,430.8l19.5,-11.25v22.5z M403.2,431.9l19.5,-11.25v22.5z M403.9,435.4l19.5,-11.25v22.5z M407.2,433.1l19.5,-11.25v22.5z M408.2,436.7l19.5,-11.25v22.5z M413.3,435.5l19.5,-11.25v22.5z M411.6,439.1l19.5,-11.25v22.5z M418.3,438.5l19.5,-11.25v22.5z M417.4,440.3l19.5,-11.25v22.5z M423.2,437.2l19.5,-11.25v22.5z M425.1,440.7l19.5,-11.25v22.5z M428.7,439.0l19.5,-11.25v22.5z M429.4,442.8l19.5,-11.25v22.5z M435.2,439.5l19.5,-11.25v22.5z M433.5,442.3l19.5,-11.25v22.5z M440.2,440.0l19.5,-11.25v22.5z M439.4,444.8l19.5,-11.25v22.5z M444.2,443.0l19.5,-11.25v22.5z M443.3,446.2l19.5,-11.25v22.5z M451.0,442.2l19.5,-11.25v22.5z M450.2,447.4l19.5,-11.25v22.5z M456.9,444.0l19.5,-11.25v22.5z M455.3,450.3l19.5,-11.25v22.5z M461.7,443.2l19.5,-11.25v22.5z M463.4,448.8l19.5,-11.25v22.5z M467.5,444.8l19.5,-11.25v22.5z M469.4,452.0l19.5,-11.25v22.5z M472.6,447.8l19.5,-11.25v22.5z M474.3,452.7l19.5,-11.25v22.5z M478.9,449.2l19.5,-11.25v22.5z M479.0,457.1l19.5,-11.25v22.5z M483.4,447.9l19.5,-11.25v22.5z M483.5,458.4l19.5,-11.25v22.5z M490.2,451.2l19.5,-11.25v22.5z M491.8,459.2l19.5,-11.25v22.5z M494.3,452.8l19.5,-11.25v22.5z M494.3,460.4l19.5,-11.25v22.5z M499.5,453.4l19.5,-11.25v22.5z M498.9,461.6l19.5,-11.25v22.5z M506.9,455.4l19.5,-11.25v22.5z M507.9,465.6l19.5,-11.25v22.5z M511.4,453.3l19.5,-11.25v22.5z M512.2,467.2l19.5,-11.25v22.5z M516.5,456.2l19.5,-11.25v22.5z M516.1,469.0l19.5,-11.25v22.5z M522.9,457.6l19.5,-11.25v22.5z M522.6,468.5l19.5,-11.25v22.5z M527.1,459.4l19.5,-11.25v22.5z M528.4,469.7l19.5,-11.25v22.5z M534.8,460.6l19.5,-11.25v22.5z M533.9,472.5l19.5,-11.25v22.5z M539.6,461.2l19.5,-11.25v22.5z M541.4,474.9l19.5,-11.25v22.5z M546.8,462.0l19.5,-11.25v22.5z M548.5,476.8l19.5,-11.25v22.5z M553.0,463.1l19.5,-11.25v22.5z M551.2,477.4l19.5,-11.25v22.5z M558.8,464.3l19.5,-11.25v22.5z M559.4,477.0l19.5,-11.25v22.5z M563.0,464.6l19.5,-11.25v22.5z M561.5,478.3l19.5,-11.25v22.5z M568.4,467.9l19.5,-11.25v22.5z M569.4,480.8l19.5,-11.25v22.5z M573.5,467.6l19.5,-11.25v22.5z M572.7,479.9l19.5,-11.25v22.5z M579.0,469.2l19.5,-11.25v22.5z M577.7,478.7l19.5,-11.25v22.5z M586.7,468.2l19.5,-11.25v22.5z M585.5,481.1l19.5,-11.25v22.5z M198.0,306.3l19.5,-11.25v22.5z M253.2,326.6l19.5,-11.25v22.5z M280.2,363.9l19.5,-11.25v22.5z M299.2,396.0l19.5,-11.25v22.5z M313.0,419.4l19.5,-11.25v22.5z M324.0,432.6l19.5,-11.25v22.5z M333.4,443.2l19.5,-11.25v22.5z M341.4,450.6l19.5,-11.25v22.5z M348.3,456.8l19.5,-11.25v22.5z M354.5,461.3l19.5,-11.25v22.5z M360.1,465.9l19.5,-11.25v22.5z M365.1,469.4l19.5,-11.25v22.5z M369.8,473.9l19.5,-11.25v22.5z M374.0,478.6l19.5,-11.25v22.5z M378.0,484.1l19.5,-11.25v22.5z M381.7,489.8l19.5,-11.25v22.5z M385.2,494.3l19.5,-11.25v22.5z M388.5,497.9l19.5,-11.25v22.5z M391.6,501.5l19.5,-11.25v22.5z M394.5,504.7l19.5,-11.25v22.5z M397.3,506.9l19.5,-11.25v22.5z M400.0,509.2l19.5,-11.25v22.5z M400.0,509.2l19.5,-11.25v22.5z M402.5,510.9l19.5,-11.25v22.5z M402.5,510.9l19.5,-11.25v22.5z M404.9,512.0l19.5,-11.25v22.5z M404.9,512.0l19.5,-11.25v22.5z M407.3,513.0l19.5,-11.25v22.5z M407.3,513.0l19.5,-11.25v22.5z M409.5,513.9l19.5,-11.25v22.5z M409.5,513.9l19.5,-11.25v22.5z M413.7,515.6l19.5,-11.25v22.5z M413.7,515.6l19.5,-11.25v22.5z M417.6,517.1l19.5,-11.25v22.5z M417.6,517.1l19.5,-11.25v22.5z M421.3,518.4l19.5,-11.25v22.5z M421.3,518.4l19.5,-11.25v22.5z M424.7,519.7l19.5,-11.25v22.5z M424.7,519.7l19.5,-11.25v22.5z M428.0,520.8l19.5,-11.25v22.5z M428.0,520.8l19.5,-11.25v22.5z M431.0,521.9l19.5,-11.25v22.5z M431.0,521.9l19.5,-11.25v22.5z M433.9,522.8l19.5,-11.25v22.5z M433.9,522.8l19.5,-11.25v22.5z M436.7,523.8l19.5,-11.25v22.5z M436.7,523.8l19.5,-11.25v22.5z M439.3,524.6l19.5,-11.25v22.5z M439.3,524.6l19.5,-11.25v22.5z M441.8,525.4l19.5,-11.25v22.5z M441.8,525.4l19.5,-11.25v22.5z M444.2,526.1l19.5,-11.25v22.5z M444.2,526.2l19.5,-11.25v22.5z M446.5,526.6l19.5,-11.25v22.5z M446.5,527.0l19.5,-11.25v22.5z M448.7,527.1l19.5,-11.25v22.5z M448.7,527.7l19.5,-11.25v22.5z M451.9,527.9l19.5,-11.25v22.5z M451.9,528.6l19.5,-11.25v22.5z M454.9,528.5l19.5,-11.25v22.5z M454.9,529.4l19.5,-11.25v22.5z M457.7,529.2l19.5,-11.25v22.5z M457.7,529.9l19.5,-11.25v22.5z M460.4,529.8l19.5,-11.25v22.5z M460.4,530.4l19.5,-11.25v22.5z M463.0,530.4l19.5,-11.25v22.5z M463.0,530.8l19.5,-11.25v22.5z M465.5,530.9l19.5,-11.25v22.5z M465.5,531.2l19.5,-11.25v22.5z M467.9,531.5l19.5,-11.25v22.5z M467.9,531.6l19.5,-11.25v22.5z M470.1,532.0l19.5,-11.25v22.5z M470.1,532.1l19.5,-11.25v22.5z M473.0,532.6l19.5,-11.25v22.5z M473.0,532.8l19.5,-11.25v22.5z M475.8,533.2l19.5,-11.25v22.5z M475.8,533.5l19.5,-11.25v22.5z M478.4,533.8l19.5,-11.25v22.5z M478.4,534.3l19.5,-11.25v22.5z M480.9,534.3l19.5,-11.25v22.5z M480.9,535.2l19.5,-11.25v22.5z M483.3,534.9l19.5,-11.25v22.5z M483.3,536.0l19.5,-11.25v22.5z M485.6,535.4l19.5,-11.25v22.5z M485.6,536.8l19.5,-11.25v22.5z M487.8,535.8l19.5,-11.25v22.5z M487.8,537.6l19.5,-11.25v22.5z M490.4,536.4l19.5,-11.25v22.5z M490.4,538.7l19.5,-11.25v22.5z M492.9,536.9l19.5,-11.25v22.5z M492.9,539.6l19.5,-11.25v22.5z M495.3,537.4l19.5,-11.25v22.5z M495.3,540.6l19.5,-11.25v22.5z M497.6,537.9l19.5,-11.25v22.5z M497.6,541.4l19.5,-11.25v22.5z M499.8,538.4l19.5,-11.25v22.5z M499.8,542.3l19.5,-11.25v22.5z M502.4,538.9l19.5,-11.25v22.5z M502.4,543.2l19.5,-11.25v22.5z M504.8,539.4l19.5,-11.25v22.5z M504.8,544.2l19.5,-11.25v22.5z M507.2,539.9l19.5,-11.25v22.5z M507.2,545.0l19.5,-11.25v22.5z M509.4,540.4l19.5,-11.25v22.5z M509.4,545.8l19.5,-11.25v22.5z M511.9,540.9l19.5,-11.25v22.5z M511.9,546.7l19.5,-11.25v22.5z M514.3,541.4l19.5,-11.25v22.5z M514.3,547.6l19.5,-11.25v22.5z M516.6,541.8l19.5,-11.25v22.5z M516.6,548.4l19.5,-11.25v22.5z M518.8,542.3l19.5,-11.25v22.5z M518.8,549.1l19.5,-11.25v22.5z M521.3,542.7l19.5,-11.25v22.5z M521.3,550.0l19.5,-11.25v22.5z M523.6,543.2l19.5,-11.25v22.5z M523.6,550.7l19.5,-11.25v22.5z M525.8,543.7l19.5,-11.25v22.5z M525.8,551.5l19.5,-11.25v22.5z M528.2,544.1l19.5,-11.25v22.5z M528.2,552.2l19.5,-11.25v22.5z M530.5,544.6l19.5,-11.25v22.5z M530.5,553.0l19.5,-11.25v22.5z M532.8,545.0l19.5,-11.25v22.5z M532.8,553.7l19.5,-11.25v22.5z M535.1,545.5l19.5,-11.25v22.5z M535.1,554.4l19.5,-11.25v22.5z M537.4,545.9l19.5,-11.25v22.5z M537.4,555.1l19.5,-11.25v22.5z M539.8,546.4l19.5,-11.25v22.5z M539.8,555.8l19.5,-11.25v22.5z M542.1,546.8l19.5,-11.25v22.5z M542.1,556.5l19.5,-11.25v22.5z M544.3,547.2l19.5,-11.25v22.5z M544.3,557.1l19.5,-11.25v22.5z M546.6,547.7l19.5,-11.25v22.5z M546.6,557.8l19.5,-11.25v22.5z M548.8,548.1l19.5,-11.25v22.5z M548.8,558.4l19.5,-11.25v22.5z M551.1,548.5l19.5,-11.25v22.5z M551.1,559.0l19.5,-11.25v22.5z M553.3,548.9l19.5,-11.25v22.5z M553.3,559.6l19.5,-11.25v22.5z M555.6,549.3l19.5,-11.25v22.5z M555.6,560.2l19.5,-11.25v22.5z M557.8,549.7l19.5,-11.25v22.5z M557.8,560.8l19.5,-11.25v22.5z M560.1,550.2l19.5,-11.25v22.5z M560.1,561.4l19.5,-11.25v22.5z M562.4,550.6l19.5,-11.25v22.5z M562.4,561.9l19.5,-11.25v22.5z M564.7,551.0l19.5,-11.25v22.5z M564.7,562.5l19.5,-11.25v22.5z M566.9,551.4l19.5,-11.25v22.5z M566.9,563.0l19.5,-11.25v22.5z M569.2,551.8l19.5,-11.25v22.5z M569.2,563.5l19.5,-11.25v22.5z M571.5,552.2l19.5,-11.25v22.5z M571.5,564.0l19.5,-11.25v22.5z M573.7,552.4l19.5,-11.25v22.5z M573.7,564.3l19.5,-11.25v22.5z M576.0,552.4l19.5,-11.25v22.5z M576.0,564.3l19.5,-11.25v22.5z M578.3,552.4l19.5,-11.25v22.5z M578.3,564.3l19.5,-11.25v22.5z M580.5,552.4l19.5,-11.25v22.5z M580.5,564.3l19.5,-11.25v22.5z M582.7,552.4l19.5,-11.25v22.5z M582.7,564.3l19.5,-11.25v22.5z M584.9,552.4l19.5,-11.25v22.5z M584.9,564.3l19.5,-11.25v22.5z M392.2,501.5l19.5,-11.25v22.5z M392.2,502.5l19.5,-11.25v22.5z M397.4,504.8l19.5,-11.25v22.5z M397.4,507.5l19.5,-11.25v22.5z M403.4,509.1l19.5,-11.25v22.5z M404.8,512.2l19.5,-11.25v22.5z M408.5,512.5l19.5,-11.25v22.5z M408.1,515.2l19.5,-11.25v22.5z M416.3,513.3l19.5,-11.25v22.5z M417.8,517.1l19.5,-11.25v22.5z M420.4,515.1l19.5,-11.25v22.5z M422.0,520.3l19.5,-11.25v22.5z M426.8,519.3l19.5,-11.25v22.5z M426.3,524.5l19.5,-11.25v22.5z M434.1,518.3l19.5,-11.25v22.5z M435.9,525.5l19.5,-11.25v22.5z M438.5,521.7l19.5,-11.25v22.5z M438.6,528.8l19.5,-11.25v22.5z M446.3,521.7l19.5,-11.25v22.5z M446.8,531.9l19.5,-11.25v22.5z M452.1,523.6l19.5,-11.25v22.5z M450.2,533.8l19.5,-11.25v22.5z M457.0,523.5l19.5,-11.25v22.5z M457.6,533.3l19.5,-11.25v22.5z M461.5,526.7l19.5,-11.25v22.5z M462.1,535.3l19.5,-11.25v22.5z M466.0,528.3l19.5,-11.25v22.5z M466.1,535.7l19.5,-11.25v22.5z M471.5,529.1l19.5,-11.25v22.5z M471.9,534.9l19.5,-11.25v22.5z M476.7,529.4l19.5,-11.25v22.5z M478.6,538.5l19.5,-11.25v22.5z M484.3,531.0l19.5,-11.25v22.5z M483.2,539.7l19.5,-11.25v22.5z M492.1,531.9l19.5,-11.25v22.5z M491.3,541.9l19.5,-11.25v22.5z M498.1,533.3l19.5,-11.25v22.5z M497.8,545.0l19.5,-11.25v22.5z M504.8,533.9l19.5,-11.25v22.5z M503.7,546.7l19.5,-11.25v22.5z M510.1,536.6l19.5,-11.25v22.5z M510.9,549.2l19.5,-11.25v22.5z M517.3,537.0l19.5,-11.25v22.5z M517.3,551.8l19.5,-11.25v22.5z M525.2,540.0l19.5,-11.25v22.5z M526.5,554.5l19.5,-11.25v22.5z M530.1,539.5l19.5,-11.25v22.5z M529.3,558.5l19.5,-11.25v22.5z M536.1,542.5l19.5,-11.25v22.5z M535.0,558.6l19.5,-11.25v22.5z M542.7,541.3l19.5,-11.25v22.5z M541.3,560.5l19.5,-11.25v22.5z M547.6,542.1l19.5,-11.25v22.5z M546.1,560.7l19.5,-11.25v22.5z M551.8,544.8l19.5,-11.25v22.5z M553.4,564.6l19.5,-11.25v22.5z M558.7,544.1l19.5,-11.25v22.5z M560.5,564.6l19.5,-11.25v22.5z M563.5,545.2l19.5,-11.25v22.5z M564.5,564.8l19.5,-11.25v22.5z M570.1,548.2l19.5,-11.25v22.5z M569.6,567.3l19.5,-11.25v22.5z M574.8,549.9l19.5,-11.25v22.5z M573.9,567.9l19.5,-11.25v22.5z M582.6,549.5l19.5,-11.25v22.5z M584.5,567.4l19.5,-11.25v22.5z M588.1,547.2l19.5,-11.25v22.5z M589.4,568.2l19.5,-11.25v22.5z M198.0,357.0l19.5,-11.25v22.5z M253.2,371.9l19.5,-11.25v22.5z M280.9,404.8l19.5,-11.25v22.5z M299.2,447.2l19.5,-11.25v22.5z M313.0,470.5l19.5,-11.25v22.5z M324.0,480.7l19.5,-11.25v22.5z M333.4,488.9l19.5,-11.25v22.5z M333.4,488.8l19.5,-11.25v22.5z M341.4,495.6l19.5,-11.25v22.5z M348.3,498.3l19.5,-11.25v22.5z M354.5,503.2l19.5,-11.25v22.5z M360.1,509.7l19.5,-11.25v22.5z M365.1,514.4l19.5,-11.25v22.5z M369.8,522.1l19.5,-11.25v22.5z M374.0,529.5l19.5,-11.25v22.5z M378.0,535.3l19.5,-11.25v22.5z M381.7,539.1l19.5,-11.25v22.5z M385.2,543.9l19.5,-11.25v22.5z M388.5,548.3l19.5,-11.25v22.5z M391.6,553.8l19.5,-11.25v22.5z M394.5,556.0l19.5,-11.25v22.5z M397.3,560.2l19.5,-11.25v22.5z M400.0,562.6l19.5,-11.25v22.5z M400.0,562.6l19.5,-11.25v22.5z M402.5,565.2l19.5,-11.25v22.5z M402.5,565.2l19.5,-11.25v22.5z M404.9,567.6l19.5,-11.25v22.5z M404.9,567.6l19.5,-11.25v22.5z M407.3,569.7l19.5,-11.25v22.5z M407.3,569.7l19.5,-11.25v22.5z M409.5,571.7l19.5,-11.25v22.5z M409.5,571.7l19.5,-11.25v22.5z M413.7,575.1l19.5,-11.25v22.5z M413.7,575.1l19.5,-11.25v22.5z M417.6,577.5l19.5,-11.25v22.5z M417.6,578.4l19.5,-11.25v22.5z M421.3,579.4l19.5,-11.25v22.5z M421.3,580.4l19.5,-11.25v22.5z M424.7,581.1l19.5,-11.25v22.5z M424.7,581.6l19.5,-11.25v22.5z M428.0,582.6l19.5,-11.25v22.5z M428.0,582.7l19.5,-11.25v22.5z M431.0,583.7l19.5,-11.25v22.5z M431.0,583.7l19.5,-11.25v22.5z M433.9,584.7l19.5,-11.25v22.5z M433.9,584.7l19.5,-11.25v22.5z M436.7,585.5l19.5,-11.25v22.5z M436.7,585.5l19.5,-11.25v22.5z M439.3,586.3l19.5,-11.25v22.5z M439.3,586.3l19.5,-11.25v22.5z M441.8,587.0l19.5,-11.25v22.5z M441.8,587.0l19.5,-11.25v22.5z M444.2,587.7l19.5,-11.25v22.5z M444.2,587.7l19.5,-11.25v22.5z M446.5,588.3l19.5,-11.25v22.5z M446.5,588.3l19.5,-11.25v22.5z M448.7,588.9l19.5,-11.25v22.5z M448.7,588.9l19.5,-11.25v22.5z M451.9,589.7l19.5,-11.25v22.5z M451.9,589.7l19.5,-11.25v22.5z M454.9,590.5l19.5,-11.25v22.5z M454.9,590.5l19.5,-11.25v22.5z M457.7,591.2l19.5,-11.25v22.5z M457.7,591.2l19.5,-11.25v22.5z M460.4,591.8l19.5,-11.25v22.5z M460.4,591.8l19.5,-11.25v22.5z M463.0,592.4l19.5,-11.25v22.5z M463.0,592.4l19.5,-11.25v22.5z M465.5,593.0l19.5,-11.25v22.5z M465.5,593.0l19.5,-11.25v22.5z M467.9,593.5l19.5,-11.25v22.5z M467.9,593.5l19.5,-11.25v22.5z M470.1,594.0l19.5,-11.25v22.5z M470.1,594.0l19.5,-11.25v22.5z M473.0,594.5l19.5,-11.25v22.5z M473.0,594.5l19.5,-11.25v22.5z M475.8,595.1l19.5,-11.25v22.5z M475.8,595.1l19.5,-11.25v22.5z M478.4,595.6l19.5,-11.25v22.5z M478.4,595.6l19.5,-11.25v22.5z M480.9,596.1l19.5,-11.25v22.5z M480.9,596.2l19.5,-11.25v22.5z M483.3,596.4l19.5,-11.25v22.5z M483.3,596.9l19.5,-11.25v22.5z M485.6,596.8l19.5,-11.25v22.5z M485.6,597.7l19.5,-11.25v22.5z M487.8,597.2l19.5,-11.25v22.5z M487.8,598.4l19.5,-11.25v22.5z M490.4,597.8l19.5,-11.25v22.5z M490.4,599.2l19.5,-11.25v22.5z M492.9,598.5l19.5,-11.25v22.5z M492.9,600.1l19.5,-11.25v22.5z M495.3,599.1l19.5,-11.25v22.5z M495.3,600.9l19.5,-11.25v22.5z M497.6,599.8l19.5,-11.25v22.5z M497.6,601.6l19.5,-11.25v22.5z M499.8,600.4l19.5,-11.25v22.5z M499.8,602.4l19.5,-11.25v22.5z M502.4,601.2l19.5,-11.25v22.5z M502.4,603.2l19.5,-11.25v22.5z M504.8,602.0l19.5,-11.25v22.5z M504.8,604.0l19.5,-11.25v22.5z M507.2,602.7l19.5,-11.25v22.5z M507.2,604.8l19.5,-11.25v22.5z M509.4,603.4l19.5,-11.25v22.5z M509.4,605.5l19.5,-11.25v22.5z M511.9,604.1l19.5,-11.25v22.5z M511.9,606.3l19.5,-11.25v22.5z M514.3,604.8l19.5,-11.25v22.5z M514.3,607.1l19.5,-11.25v22.5z M516.6,605.4l19.5,-11.25v22.5z M516.6,607.9l19.5,-11.25v22.5z M518.8,606.0l19.5,-11.25v22.5z M518.8,608.6l19.5,-11.25v22.5z M521.3,606.6l19.5,-11.25v22.5z M521.3,609.3l19.5,-11.25v22.5z M523.6,607.2l19.5,-11.25v22.5z M523.6,610.0l19.5,-11.25v22.5z M525.8,607.7l19.5,-11.25v22.5z M525.8,610.7l19.5,-11.25v22.5z M528.2,608.2l19.5,-11.25v22.5z M528.2,611.4l19.5,-11.25v22.5z M530.5,608.7l19.5,-11.25v22.5z M530.5,612.1l19.5,-11.25v22.5z M532.8,609.2l19.5,-11.25v22.5z M532.8,612.7l19.5,-11.25v22.5z M535.1,609.6l19.5,-11.25v22.5z M535.1,613.3l19.5,-11.25v22.5z M537.4,610.0l19.5,-11.25v22.5z M537.4,613.9l19.5,-11.25v22.5z M539.8,610.4l19.5,-11.25v22.5z M539.8,614.6l19.5,-11.25v22.5z M542.1,610.8l19.5,-11.25v22.5z M542.1,615.1l19.5,-11.25v22.5z M544.3,611.1l19.5,-11.25v22.5z M544.3,615.7l19.5,-11.25v22.5z M546.6,611.4l19.5,-11.25v22.5z M546.6,616.2l19.5,-11.25v22.5z M548.8,611.6l19.5,-11.25v22.5z M548.8,616.7l19.5,-11.25v22.5z M551.1,611.9l19.5,-11.25v22.5z M551.1,617.1l19.5,-11.25v22.5z M553.3,612.1l19.5,-11.25v22.5z M553.3,617.6l19.5,-11.25v22.5z M555.6,612.3l19.5,-11.25v22.5z M555.6,618.0l19.5,-11.25v22.5z M557.8,612.4l19.5,-11.25v22.5z M557.8,618.4l19.5,-11.25v22.5z M560.1,612.6l19.5,-11.25v22.5z M560.1,618.7l19.5,-11.25v22.5z M562.4,612.7l19.5,-11.25v22.5z M562.4,619.0l19.5,-11.25v22.5z M564.7,612.7l19.5,-11.25v22.5z M564.7,619.3l19.5,-11.25v22.5z M566.9,612.8l19.5,-11.25v22.5z M566.9,619.6l19.5,-11.25v22.5z M569.2,612.8l19.5,-11.25v22.5z M569.2,619.8l19.5,-11.25v22.5z M571.5,612.8l19.5,-11.25v22.5z M571.5,620.0l19.5,-11.25v22.5z M573.7,612.8l19.5,-11.25v22.5z M573.7,620.1l19.5,-11.25v22.5z M576.0,612.8l19.5,-11.25v22.5z M576.0,620.1l19.5,-11.25v22.5z M578.3,612.8l19.5,-11.25v22.5z M578.3,620.1l19.5,-11.25v22.5z M580.5,612.8l19.5,-11.25v22.5z M580.5,620.1l19.5,-11.25v22.5z M582.7,612.8l19.5,-11.25v22.5z M582.7,620.1l19.5,-11.25v22.5z M584.9,612.8l19.5,-11.25v22.5z M584.9,620.1l19.5,-11.25v22.5z M392.2,551.6l19.5,-11.25v22.5z M392.2,554.6l19.5,-11.25v22.5z M397.3,557.3l19.5,-11.25v22.5z M397.3,561.3l19.5,-11.25v22.5z M402.4,562.4l19.5,-11.25v22.5z M401.7,566.2l19.5,-11.25v22.5z M406.4,565.4l19.5,-11.25v22.5z M408.1,572.1l19.5,-11.25v22.5z M414.2,572.9l19.5,-11.25v22.5z M413.1,579.5l19.5,-11.25v22.5z M422.0,574.1l19.5,-11.25v22.5z M421.5,584.0l19.5,-11.25v22.5z M427.7,578.4l19.5,-11.25v22.5z M429.4,585.7l19.5,-11.25v22.5z M434.9,580.5l19.5,-11.25v22.5z M436.2,589.6l19.5,-11.25v22.5z M441.4,584.2l19.5,-11.25v22.5z M440.6,589.7l19.5,-11.25v22.5z M448.5,587.4l19.5,-11.25v22.5z M447.3,592.5l19.5,-11.25v22.5z M453.5,589.0l19.5,-11.25v22.5z M451.6,592.9l19.5,-11.25v22.5z M458.8,587.3l19.5,-11.25v22.5z M460.3,595.6l19.5,-11.25v22.5z M463.8,591.3l19.5,-11.25v22.5z M462.2,595.3l19.5,-11.25v22.5z M470.7,591.1l19.5,-11.25v22.5z M469.6,596.9l19.5,-11.25v22.5z M477.2,590.9l19.5,-11.25v22.5z M478.2,600.3l19.5,-11.25v22.5z M483.8,593.6l19.5,-11.25v22.5z M485.2,600.6l19.5,-11.25v22.5z M490.1,594.0l19.5,-11.25v22.5z M491.0,602.3l19.5,-11.25v22.5z M495.1,595.7l19.5,-11.25v22.5z M493.7,606.2l19.5,-11.25v22.5z M501.4,597.3l19.5,-11.25v22.5z M501.0,608.6l19.5,-11.25v22.5z M507.4,599.5l19.5,-11.25v22.5z M508.7,609.5l19.5,-11.25v22.5z M515.4,602.2l19.5,-11.25v22.5z M515.3,612.7l19.5,-11.25v22.5z M522.7,601.5l19.5,-11.25v22.5z M520.9,613.2l19.5,-11.25v22.5z M527.2,604.9l19.5,-11.25v22.5z M529.1,615.5l19.5,-11.25v22.5z M534.9,605.8l19.5,-11.25v22.5z M536.4,617.3l19.5,-11.25v22.5z M540.0,605.4l19.5,-11.25v22.5z M541.8,617.5l19.5,-11.25v22.5z M546.4,606.8l19.5,-11.25v22.5z M545.2,619.8l19.5,-11.25v22.5z M550.9,608.7l19.5,-11.25v22.5z M550.0,621.6l19.5,-11.25v22.5z M557.5,609.2l19.5,-11.25v22.5z M555.6,621.9l19.5,-11.25v22.5z M564.3,609.6l19.5,-11.25v22.5z M563.5,622.5l19.5,-11.25v22.5z M571.4,608.5l19.5,-11.25v22.5z M569.7,622.8l19.5,-11.25v22.5z M577.0,608.5l19.5,-11.25v22.5z M577.6,622.9l19.5,-11.25v22.5z M581.7,608.0l19.5,-11.25v22.5z M581.3,623.5l19.5,-11.25v22.5z M586.9,607.1l19.5,-11.25v22.5z M586.2,624.4l19.5,-11.25v22.5z M198.0,428.4l19.5,-11.25v22.5z M253.2,453.0l19.5,-11.25v22.5z M280.9,480.0l19.5,-11.25v22.5z M299.2,502.4l19.5,-11.25v22.5z M313.0,517.6l19.5,-11.25v22.5z M324.0,531.4l19.5,-11.25v22.5z M333.4,544.3l19.5,-11.25v22.5z M341.4,550.4l19.5,-11.25v22.5z M348.3,556.1l19.5,-11.25v22.5z M354.5,560.2l19.5,-11.25v22.5z M360.1,565.2l19.5,-11.25v22.5z M365.1,571.3l19.5,-11.25v22.5z M369.8,575.2l19.5,-11.25v22.5z M374.0,579.6l19.5,-11.25v22.5z M378.0,585.9l19.5,-11.25v22.5z M381.7,589.2l19.5,-11.25v22.5z M385.2,593.9l19.5,-11.25v22.5z M388.5,596.8l19.5,-11.25v22.5z M391.6,601.1l19.5,-11.25v22.5z M394.5,603.4l19.5,-11.25v22.5z M397.3,605.7l19.5,-11.25v22.5z M400.0,608.1l19.5,-11.25v22.5z M402.5,611.7l19.5,-11.25v22.5z M404.9,614.2l19.5,-11.25v22.5z M407.3,616.9l19.5,-11.25v22.5z M409.5,618.0l19.5,-11.25v22.5z M409.5,618.0l19.5,-11.25v22.5z M413.7,621.6l19.5,-11.25v22.5z M413.7,621.6l19.5,-11.25v22.5z M417.6,624.8l19.5,-11.25v22.5z M417.6,624.8l19.5,-11.25v22.5z M421.3,627.5l19.5,-11.25v22.5z M421.3,627.5l19.5,-11.25v22.5z M424.7,629.9l19.5,-11.25v22.5z M424.7,629.9l19.5,-11.25v22.5z M428.0,632.0l19.5,-11.25v22.5z M428.0,632.0l19.5,-11.25v22.5z M431.0,633.8l19.5,-11.25v22.5z M431.0,633.8l19.5,-11.25v22.5z M433.9,635.2l19.5,-11.25v22.5z M433.9,635.2l19.5,-11.25v22.5z M436.7,636.3l19.5,-11.25v22.5z M436.7,636.3l19.5,-11.25v22.5z M439.3,637.4l19.5,-11.25v22.5z M439.3,637.4l19.5,-11.25v22.5z M441.8,638.4l19.5,-11.25v22.5z M441.8,638.4l19.5,-11.25v22.5z M444.2,639.2l19.5,-11.25v22.5z M444.2,639.2l19.5,-11.25v22.5z M446.5,640.0l19.5,-11.25v22.5z M446.5,640.0l19.5,-11.25v22.5z M448.7,640.7l19.5,-11.25v22.5z M448.7,640.7l19.5,-11.25v22.5z M451.9,641.7l19.5,-11.25v22.5z M451.9,641.7l19.5,-11.25v22.5z M454.9,642.6l19.5,-11.25v22.5z M454.9,642.6l19.5,-11.25v22.5z M457.7,643.3l19.5,-11.25v22.5z M457.7,643.3l19.5,-11.25v22.5z M460.4,644.0l19.5,-11.25v22.5z M460.4,644.0l19.5,-11.25v22.5z M463.0,644.6l19.5,-11.25v22.5z M463.0,644.6l19.5,-11.25v22.5z M465.5,645.2l19.5,-11.25v22.5z M465.5,645.2l19.5,-11.25v22.5z M467.9,645.7l19.5,-11.25v22.5z M467.9,645.7l19.5,-11.25v22.5z M470.1,646.2l19.5,-11.25v22.5z M470.1,646.2l19.5,-11.25v22.5z M473.0,646.8l19.5,-11.25v22.5z M473.0,646.8l19.5,-11.25v22.5z M475.8,647.3l19.5,-11.25v22.5z M475.8,647.3l19.5,-11.25v22.5z M478.4,647.9l19.5,-11.25v22.5z M478.4,647.9l19.5,-11.25v22.5z M480.9,648.4l19.5,-11.25v22.5z M480.9,648.4l19.5,-11.25v22.5z M483.3,648.9l19.5,-11.25v22.5z M483.3,648.9l19.5,-11.25v22.5z M485.6,649.3l19.5,-11.25v22.5z M485.6,649.3l19.5,-11.25v22.5z M487.8,649.8l19.5,-11.25v22.5z M487.8,649.8l19.5,-11.25v22.5z M490.4,650.4l19.5,-11.25v22.5z M490.4,650.4l19.5,-11.25v22.5z M492.9,650.9l19.5,-11.25v22.5z M492.9,650.9l19.5,-11.25v22.5z M495.3,651.5l19.5,-11.25v22.5z M495.3,651.5l19.5,-11.25v22.5z M497.6,652.1l19.5,-11.25v22.5z M497.6,652.1l19.5,-11.25v22.5z M499.8,652.6l19.5,-11.25v22.5z M499.8,652.6l19.5,-11.25v22.5z M502.4,653.2l19.5,-11.25v22.5z M502.4,653.3l19.5,-11.25v22.5z M504.8,653.7l19.5,-11.25v22.5z M504.8,654.2l19.5,-11.25v22.5z M507.2,654.1l19.5,-11.25v22.5z M507.2,655.0l19.5,-11.25v22.5z M509.4,654.6l19.5,-11.25v22.5z M509.4,655.9l19.5,-11.25v22.5z M511.9,655.1l19.5,-11.25v22.5z M511.9,656.9l19.5,-11.25v22.5z M514.3,655.6l19.5,-11.25v22.5z M514.3,657.8l19.5,-11.25v22.5z M516.6,656.1l19.5,-11.25v22.5z M516.6,658.8l19.5,-11.25v22.5z M518.8,656.7l19.5,-11.25v22.5z M518.8,659.7l19.5,-11.25v22.5z M521.3,657.2l19.5,-11.25v22.5z M521.3,660.7l19.5,-11.25v22.5z M523.6,657.8l19.5,-11.25v22.5z M523.6,661.6l19.5,-11.25v22.5z M525.8,658.3l19.5,-11.25v22.5z M525.8,662.6l19.5,-11.25v22.5z M528.2,658.9l19.5,-11.25v22.5z M528.2,663.6l19.5,-11.25v22.5z M530.5,659.5l19.5,-11.25v22.5z M530.5,664.5l19.5,-11.25v22.5z M532.8,660.1l19.5,-11.25v22.5z M532.8,665.4l19.5,-11.25v22.5z M535.1,660.6l19.5,-11.25v22.5z M535.1,666.4l19.5,-11.25v22.5z M537.4,661.2l19.5,-11.25v22.5z M537.4,667.3l19.5,-11.25v22.5z M539.8,661.7l19.5,-11.25v22.5z M539.8,668.2l19.5,-11.25v22.5z M542.1,662.2l19.5,-11.25v22.5z M542.1,669.1l19.5,-11.25v22.5z M544.3,662.7l19.5,-11.25v22.5z M544.3,669.9l19.5,-11.25v22.5z M546.6,663.2l19.5,-11.25v22.5z M546.6,670.7l19.5,-11.25v22.5z M548.8,663.6l19.5,-11.25v22.5z M548.8,671.5l19.5,-11.25v22.5z M551.1,664.0l19.5,-11.25v22.5z M551.1,672.3l19.5,-11.25v22.5z M553.3,664.4l19.5,-11.25v22.5z M553.3,673.0l19.5,-11.25v22.5z M555.6,664.7l19.5,-11.25v22.5z M555.6,673.6l19.5,-11.25v22.5z M557.8,665.0l19.5,-11.25v22.5z M557.8,674.3l19.5,-11.25v22.5z M560.1,665.2l19.5,-11.25v22.5z M560.1,674.9l19.5,-11.25v22.5z M562.4,665.4l19.5,-11.25v22.5z M562.4,675.4l19.5,-11.25v22.5z M564.7,665.6l19.5,-11.25v22.5z M564.7,675.9l19.5,-11.25v22.5z M566.9,665.7l19.5,-11.25v22.5z M566.9,676.4l19.5,-11.25v22.5z M569.2,665.7l19.5,-11.25v22.5z M569.2,676.8l19.5,-11.25v22.5z M571.5,665.7l19.5,-11.25v22.5z M571.5,677.1l19.5,-11.25v22.5z M573.7,665.7l19.5,-11.25v22.5z M573.7,677.2l19.5,-11.25v22.5z M576.0,665.7l19.5,-11.25v22.5z M576.0,677.2l19.5,-11.25v22.5z M578.3,665.7l19.5,-11.25v22.5z M578.3,677.2l19.5,-11.25v22.5z M580.5,665.7l19.5,-11.25v22.5z M580.5,677.2l19.5,-11.25v22.5z M582.7,665.7l19.5,-11.25v22.5z M582.7,677.2l19.5,-11.25v22.5z M584.9,665.7l19.5,-11.25v22.5z M584.9,677.2l19.5,-11.25v22.5z M392.2,600.8l19.5,-11.25v22.5z M392.2,602.6l19.5,-11.25v22.5z M397.7,605.6l19.5,-11.25v22.5z M397.7,607.2l19.5,-11.25v22.5z M402.9,610.6l19.5,-11.25v22.5z M402.9,614.2l19.5,-11.25v22.5z M407.3,614.9l19.5,-11.25v22.5z M407.3,618.1l19.5,-11.25v22.5z M415.2,622.1l19.5,-11.25v22.5z M413.7,626.0l19.5,-11.25v22.5z M423.1,626.4l19.5,-11.25v22.5z M421.3,632.5l19.5,-11.25v22.5z M428.6,628.2l19.5,-11.25v22.5z M429.1,636.4l19.5,-11.25v22.5z M433.3,631.0l19.5,-11.25v22.5z M432.2,637.4l19.5,-11.25v22.5z M440.6,634.2l19.5,-11.25v22.5z M439.4,639.7l19.5,-11.25v22.5z M446.2,637.3l19.5,-11.25v22.5z M445.8,641.2l19.5,-11.25v22.5z M451.2,638.3l19.5,-11.25v22.5z M452.8,642.4l19.5,-11.25v22.5z M457.5,640.0l19.5,-11.25v22.5z M455.6,646.8l19.5,-11.25v22.5z M462.0,641.6l19.5,-11.25v22.5z M462.2,647.2l19.5,-11.25v22.5z M467.2,643.4l19.5,-11.25v22.5z M467.5,647.7l19.5,-11.25v22.5z M473.8,644.6l19.5,-11.25v22.5z M473.6,647.9l19.5,-11.25v22.5z M480.3,645.6l19.5,-11.25v22.5z M479.2,651.9l19.5,-11.25v22.5z M487.4,646.8l19.5,-11.25v22.5z M486.1,652.7l19.5,-11.25v22.5z M491.8,648.6l19.5,-11.25v22.5z M491.6,652.7l19.5,-11.25v22.5z M497.6,648.2l19.5,-11.25v22.5z M495.8,656.3l19.5,-11.25v22.5z M501.9,648.2l19.5,-11.25v22.5z M503.0,657.3l19.5,-11.25v22.5z M506.2,649.8l19.5,-11.25v22.5z M505.7,660.3l19.5,-11.25v22.5z M510.7,649.5l19.5,-11.25v22.5z M512.7,661.3l19.5,-11.25v22.5z M518.0,653.3l19.5,-11.25v22.5z M519.9,663.4l19.5,-11.25v22.5z M525.8,652.8l19.5,-11.25v22.5z M524.4,667.7l19.5,-11.25v22.5z M533.5,657.5l19.5,-11.25v22.5z M532.9,670.7l19.5,-11.25v22.5z M538.1,655.9l19.5,-11.25v22.5z M537.2,672.8l19.5,-11.25v22.5z M542.7,658.2l19.5,-11.25v22.5z M544.4,672.5l19.5,-11.25v22.5z M547.8,659.2l19.5,-11.25v22.5z M547.0,673.8l19.5,-11.25v22.5z M552.5,661.2l19.5,-11.25v22.5z M554.2,677.4l19.5,-11.25v22.5z M560.1,662.2l19.5,-11.25v22.5z M561.2,677.7l19.5,-11.25v22.5z M566.2,661.1l19.5,-11.25v22.5z M565.6,681.6l19.5,-11.25v22.5z M572.4,661.3l19.5,-11.25v22.5z M574.0,680.0l19.5,-11.25v22.5z M580.4,661.1l19.5,-11.25v22.5z M580.0,682.3l19.5,-11.25v22.5z M585.5,659.9l19.5,-11.25v22.5z M585.8,680.9l19.5,-11.25v22.5z M198.0,489.0l19.5,-11.25v22.5z M253.2,503.0l19.5,-11.25v22.5z M280.2,541.6l19.5,-11.25v22.5z M298.4,583.9l19.5,-11.25v22.5z M312.3,600.7l19.5,-11.25v22.5z M323.2,605.0l19.5,-11.25v22.5z M333.4,610.9l19.5,-11.25v22.5z M341.4,610.6l19.5,-11.25v22.5z M348.3,612.3l19.5,-11.25v22.5z M354.5,612.7l19.5,-11.25v22.5z M354.5,614.7l19.5,-11.25v22.5z M360.1,614.7l19.5,-11.25v22.5z M360.1,619.5l19.5,-11.25v22.5z M365.1,618.5l19.5,-11.25v22.5z M365.1,621.8l19.5,-11.25v22.5z M369.8,621.0l19.5,-11.25v22.5z M369.8,622.5l19.5,-11.25v22.5z M374.0,623.5l19.5,-11.25v22.5z M374.0,624.4l19.5,-11.25v22.5z M378.0,628.2l19.5,-11.25v22.5z M381.7,633.4l19.5,-11.25v22.5z M385.2,637.4l19.5,-11.25v22.5z M388.5,641.9l19.5,-11.25v22.5z M391.6,646.8l19.5,-11.25v22.5z M394.5,649.1l19.5,-11.25v22.5z M397.3,653.5l19.5,-11.25v22.5z M397.3,653.5l19.5,-11.25v22.5z M400.0,656.7l19.5,-11.25v22.5z M400.0,656.7l19.5,-11.25v22.5z M402.5,659.7l19.5,-11.25v22.5z M402.5,659.7l19.5,-11.25v22.5z M404.9,662.5l19.5,-11.25v22.5z M404.9,662.5l19.5,-11.25v22.5z M407.3,665.0l19.5,-11.25v22.5z M407.3,665.0l19.5,-11.25v22.5z M409.5,667.3l19.5,-11.25v22.5z M409.5,667.3l19.5,-11.25v22.5z M413.7,671.3l19.5,-11.25v22.5z M413.7,671.3l19.5,-11.25v22.5z M417.6,674.8l19.5,-11.25v22.5z M417.6,674.8l19.5,-11.25v22.5z M421.3,677.8l19.5,-11.25v22.5z M421.3,677.8l19.5,-11.25v22.5z M424.7,680.4l19.5,-11.25v22.5z M424.7,680.4l19.5,-11.25v22.5z M428.0,682.8l19.5,-11.25v22.5z M428.0,682.8l19.5,-11.25v22.5z M431.0,684.9l19.5,-11.25v22.5z M431.0,684.9l19.5,-11.25v22.5z M433.9,686.8l19.5,-11.25v22.5z M433.9,686.8l19.5,-11.25v22.5z M436.7,688.3l19.5,-11.25v22.5z M436.7,688.3l19.5,-11.25v22.5z M439.3,689.7l19.5,-11.25v22.5z M439.3,689.7l19.5,-11.25v22.5z M441.8,691.0l19.5,-11.25v22.5z M441.8,691.0l19.5,-11.25v22.5z M444.2,692.3l19.5,-11.25v22.5z M444.2,692.3l19.5,-11.25v22.5z M446.5,693.4l19.5,-11.25v22.5z M446.5,693.4l19.5,-11.25v22.5z M448.7,694.5l19.5,-11.25v22.5z M448.7,694.5l19.5,-11.25v22.5z M451.9,696.0l19.5,-11.25v22.5z M451.9,696.0l19.5,-11.25v22.5z M454.9,697.4l19.5,-11.25v22.5z M454.9,697.4l19.5,-11.25v22.5z M457.7,698.7l19.5,-11.25v22.5z M457.7,698.7l19.5,-11.25v22.5z M460.4,700.0l19.5,-11.25v22.5z M460.4,700.0l19.5,-11.25v22.5z M463.0,701.1l19.5,-11.25v22.5z M463.0,701.1l19.5,-11.25v22.5z M465.5,702.2l19.5,-11.25v22.5z M465.5,702.2l19.5,-11.25v22.5z M467.9,703.2l19.5,-11.25v22.5z M467.9,703.2l19.5,-11.25v22.5z M470.1,704.2l19.5,-11.25v22.5z M470.1,704.2l19.5,-11.25v22.5z M473.0,705.4l19.5,-11.25v22.5z M473.0,705.4l19.5,-11.25v22.5z M475.8,706.6l19.5,-11.25v22.5z M475.8,706.6l19.5,-11.25v22.5z M478.4,707.6l19.5,-11.25v22.5z M478.4,707.6l19.5,-11.25v22.5z M480.9,708.7l19.5,-11.25v22.5z M480.9,708.7l19.5,-11.25v22.5z M483.3,709.6l19.5,-11.25v22.5z M483.3,709.6l19.5,-11.25v22.5z M485.6,710.5l19.5,-11.25v22.5z M485.6,710.5l19.5,-11.25v22.5z M487.8,711.1l19.5,-11.25v22.5z M487.8,711.5l19.5,-11.25v22.5z M490.4,711.8l19.5,-11.25v22.5z M490.4,712.7l19.5,-11.25v22.5z M492.9,712.3l19.5,-11.25v22.5z M492.9,713.7l19.5,-11.25v22.5z M495.3,712.9l19.5,-11.25v22.5z M495.3,714.6l19.5,-11.25v22.5z M497.6,713.3l19.5,-11.25v22.5z M497.6,715.4l19.5,-11.25v22.5z M499.8,713.8l19.5,-11.25v22.5z M499.8,716.0l19.5,-11.25v22.5z M502.4,714.3l19.5,-11.25v22.5z M502.4,716.6l19.5,-11.25v22.5z M504.8,714.7l19.5,-11.25v22.5z M504.8,716.9l19.5,-11.25v22.5z M507.2,715.1l19.5,-11.25v22.5z M507.2,717.1l19.5,-11.25v22.5z M509.4,715.4l19.5,-11.25v22.5z M509.4,717.1l19.5,-11.25v22.5z M511.9,715.8l19.5,-11.25v22.5z M511.9,717.0l19.5,-11.25v22.5z M514.3,716.1l19.5,-11.25v22.5z M514.3,716.9l19.5,-11.25v22.5z M516.6,716.4l19.5,-11.25v22.5z M516.6,716.8l19.5,-11.25v22.5z M518.8,716.6l19.5,-11.25v22.5z M518.8,716.8l19.5,-11.25v22.5z M521.3,716.8l19.5,-11.25v22.5z M521.3,716.8l19.5,-11.25v22.5z M523.6,717.0l19.5,-11.25v22.5z M523.6,717.0l19.5,-11.25v22.5z M525.8,717.2l19.5,-11.25v22.5z M525.8,717.2l19.5,-11.25v22.5z M528.2,717.5l19.5,-11.25v22.5z M528.2,717.5l19.5,-11.25v22.5z M530.5,717.7l19.5,-11.25v22.5z M530.5,717.9l19.5,-11.25v22.5z M532.8,717.8l19.5,-11.25v22.5z M532.8,718.3l19.5,-11.25v22.5z M535.1,718.0l19.5,-11.25v22.5z M535.1,718.9l19.5,-11.25v22.5z M537.4,718.1l19.5,-11.25v22.5z M537.4,719.5l19.5,-11.25v22.5z M539.8,718.2l19.5,-11.25v22.5z M539.8,720.2l19.5,-11.25v22.5z M542.1,718.3l19.5,-11.25v22.5z M542.1,720.9l19.5,-11.25v22.5z M544.3,718.4l19.5,-11.25v22.5z M544.3,721.5l19.5,-11.25v22.5z M546.6,718.5l19.5,-11.25v22.5z M546.6,722.2l19.5,-11.25v22.5z M548.8,718.6l19.5,-11.25v22.5z M548.8,722.8l19.5,-11.25v22.5z M551.1,718.6l19.5,-11.25v22.5z M551.1,723.4l19.5,-11.25v22.5z M553.3,718.6l19.5,-11.25v22.5z M553.3,723.9l19.5,-11.25v22.5z M555.6,718.7l19.5,-11.25v22.5z M555.6,724.4l19.5,-11.25v22.5z M557.8,718.7l19.5,-11.25v22.5z M557.8,724.7l19.5,-11.25v22.5z M560.1,718.7l19.5,-11.25v22.5z M560.1,724.9l19.5,-11.25v22.5z M562.4,718.7l19.5,-11.25v22.5z M562.4,725.1l19.5,-11.25v22.5z M564.7,718.7l19.5,-11.25v22.5z M564.7,725.1l19.5,-11.25v22.5z M566.9,718.7l19.5,-11.25v22.5z M566.9,724.9l19.5,-11.25v22.5z M569.2,718.7l19.5,-11.25v22.5z M569.2,724.5l19.5,-11.25v22.5z M571.5,718.7l19.5,-11.25v22.5z M571.5,724.0l19.5,-11.25v22.5z M573.7,718.7l19.5,-11.25v22.5z M573.7,723.7l19.5,-11.25v22.5z M576.0,718.7l19.5,-11.25v22.5z M576.0,723.7l19.5,-11.25v22.5z M578.3,718.7l19.5,-11.25v22.5z M578.3,723.7l19.5,-11.25v22.5z M580.5,718.7l19.5,-11.25v22.5z M580.5,723.7l19.5,-11.25v22.5z M582.7,718.7l19.5,-11.25v22.5z M582.7,723.7l19.5,-11.25v22.5z M584.9,718.7l19.5,-11.25v22.5z M584.9,723.7l19.5,-11.25v22.5z M392.2,646.3l19.5,-11.25v22.5z M392.2,648.5l19.5,-11.25v22.5z M396.3,652.2l19.5,-11.25v22.5z M396.3,653.1l19.5,-11.25v22.5z M400.8,656.8l19.5,-11.25v22.5z M399.7,659.3l19.5,-11.25v22.5z M407.1,664.2l19.5,-11.25v22.5z M407.6,666.3l19.5,-11.25v22.5z M411.7,666.2l19.5,-11.25v22.5z M410.6,669.9l19.5,-11.25v22.5z M416.0,671.1l19.5,-11.25v22.5z M417.5,676.2l19.5,-11.25v22.5z M421.7,676.7l19.5,-11.25v22.5z M419.7,680.7l19.5,-11.25v22.5z M427.9,680.9l19.5,-11.25v22.5z M428.5,684.9l19.5,-11.25v22.5z M435.6,684.6l19.5,-11.25v22.5z M434.6,691.4l19.5,-11.25v22.5z M439.8,687.7l19.5,-11.25v22.5z M439.4,691.3l19.5,-11.25v22.5z M444.1,689.2l19.5,-11.25v22.5z M442.1,694.4l19.5,-11.25v22.5z M451.8,695.2l19.5,-11.25v22.5z M450.6,698.3l19.5,-11.25v22.5z M457.8,696.3l19.5,-11.25v22.5z M459.1,699.7l19.5,-11.25v22.5z M463.1,699.6l19.5,-11.25v22.5z M461.3,704.6l19.5,-11.25v22.5z M470.2,701.0l19.5,-11.25v22.5z M468.2,707.9l19.5,-11.25v22.5z M477.2,704.1l19.5,-11.25v22.5z M478.2,710.2l19.5,-11.25v22.5z M482.1,706.8l19.5,-11.25v22.5z M481.0,711.4l19.5,-11.25v22.5z M487.4,706.1l19.5,-11.25v22.5z M488.2,716.6l19.5,-11.25v22.5z M494.3,709.3l19.5,-11.25v22.5z M494.5,718.2l19.5,-11.25v22.5z M501.4,709.9l19.5,-11.25v22.5z M500.5,721.0l19.5,-11.25v22.5z M509.3,712.2l19.5,-11.25v22.5z M510.8,719.7l19.5,-11.25v22.5z M514.3,712.8l19.5,-11.25v22.5z M515.3,722.5l19.5,-11.25v22.5z M521.3,713.3l19.5,-11.25v22.5z M522.9,720.4l19.5,-11.25v22.5z M526.3,711.9l19.5,-11.25v22.5z M526.8,722.0l19.5,-11.25v22.5z M533.0,712.1l19.5,-11.25v22.5z M532.8,723.7l19.5,-11.25v22.5z M539.7,712.9l19.5,-11.25v22.5z M539.5,725.1l19.5,-11.25v22.5z M546.0,715.0l19.5,-11.25v22.5z M544.9,726.6l19.5,-11.25v22.5z M550.3,713.1l19.5,-11.25v22.5z M548.9,725.8l19.5,-11.25v22.5z M554.8,713.1l19.5,-11.25v22.5z M554.1,727.2l19.5,-11.25v22.5z M558.9,716.1l19.5,-11.25v22.5z M559.6,729.4l19.5,-11.25v22.5z M565.7,713.8l19.5,-11.25v22.5z M563.9,729.4l19.5,-11.25v22.5z M571.1,713.5l19.5,-11.25v22.5z M572.4,729.6l19.5,-11.25v22.5z M575.4,713.3l19.5,-11.25v22.5z M577.0,729.4l19.5,-11.25v22.5z M579.8,715.5l19.5,-11.25v22.5z M578.3,726.4l19.5,-11.25v22.5z M587.2,713.5l19.5,-11.25v22.5z M587.7,729.0l19.5,-11.25v22.5z" fill="#000"/></g>
<g clip-path="url(#cr)"><path d="M210.7,38.9 L247.3,40.4 L269.2,52.1 L286.0,74.7 L294.0,92.2 L300.0,105.3 L302.0,109.7 L304.0,114.0 L306.0,118.4 L308.0,122.7 L310.0,127.1 L312.0,131.4 L314.0,135.7 L316.0,139.9 L318.0,143.8 L320.0,147.7 L322.0,151.4 L324.0,155.0 L326.0,158.5 L328.0,161.8 L330.0,165.0 L332.0,168.1 L334.0,171.1 L336.0,174.1 L338.0,176.9 L340.0,179.6 L342.0,182.1 L344.0,184.4 L346.0,186.4 L348.0,188.3 L350.0,189.9 L352.0,191.5 L354.0,193.0 L356.0,194.5 L358.0,196.2 L360.0,198.1 L362.0,200.2 L364.0,202.5 L366.0,205.1 L368.0,207.7 L370.0,210.4 L372.0,213.1 L374.0,215.8 L376.0,218.5 L378.0,221.2 L380.0,223.9 L382.0,226.7 L384.0,229.6 L386.0,232.5 L388.0,235.6 L390.0,238.7 L392.0,241.9 L394.0,245.1 L396.0,248.2 L398.0,251.3 L400.0,254.3 L402.0,257.3 L404.0,260.4 L406.0,263.4 L408.0,266.2 L410.0,268.9 L412.0,271.3 L414.0,273.4 L416.0,275.2 L418.0,276.7 L420.0,278.1 L422.0,279.4 L424.0,280.6 L426.0,281.7 L428.0,282.8 L430.0,283.9 L432.0,284.9 L434.0,285.9 L436.0,286.8 L438.0,287.7 L440.0,288.6 L442.0,289.4 L444.0,290.2 L446.0,291.0 L448.0,291.8 L450.0,292.7 L452.0,293.5 L454.0,294.4 L456.0,295.3 L458.0,296.2 L460.0,297.0 L462.0,297.8 L464.0,298.6 L466.0,299.3 L468.0,300.0 L470.0,300.7 L472.0,301.4 L474.0,302.1 L476.0,302.9 L478.0,303.6 L480.0,304.4 L482.0,305.2 L484.0,306.0 L486.0,306.8 L488.0,307.6 L490.0,308.5 L492.0,309.3 L494.0,310.1 L496.0,310.9 L498.0,311.7 L500.0,312.4 L502.0,313.1 L504.0,313.8 L506.0,314.4 L508.0,314.9 L510.0,315.4 L512.0,315.9 L514.0,316.4 L516.0,316.7 L518.0,317.1 L520.0,317.4 L522.0,317.7 L524.0,318.0 L526.0,318.2 L528.0,318.4 L530.0,318.6 L532.0,318.7 L534.0,318.9 L536.0,319.0 L538.0,319.1 L540.0,319.1 L542.0,319.2 L544.0,319.3 L546.0,319.3 L548.0,319.4 L550.0,319.4 L552.0,319.4 L554.0,319.4 L556.0,319.5 L558.0,319.5 L560.0,319.5 L562.0,319.5 L564.0,319.5 L566.0,319.6 L568.0,319.6 L570.0,319.6 L572.0,319.6 L574.0,319.6 L576.0,319.6 L578.0,319.7 L580.0,319.7 L582.0,319.7 L584.0,319.7 L586.0,319.7 L588.0,319.7 L590.0,319.7 L592.0,319.7 L594.0,319.7 M210.7,140.8 L247.3,142.4 L269.2,153.7 L284.6,175.0 L294.0,195.5 L300.0,209.6 L302.0,214.0 L304.0,218.2 L306.0,222.3 L308.0,226.1 L310.0,229.8 L312.0,233.3 L314.0,236.7 L316.0,239.9 L318.0,243.1 L320.0,246.2 L322.0,249.3 L324.0,252.2 L326.0,254.9 L328.0,257.3 L330.0,259.4 L332.0,261.3 L334.0,263.0 L336.0,264.6 L338.0,266.2 L340.0,267.7 L342.0,269.2 L344.0,270.7 L346.0,272.2 L348.0,273.8 L350.0,275.4 L352.0,277.0 L354.0,278.7 L356.0,280.4 L358.0,282.2 L360.0,284.1 L362.0,286.0 L364.0,287.9 L366.0,289.9 L368.0,292.0 L370.0,294.0 L372.0,296.0 L374.0,298.0 L376.0,300.0 L378.0,302.1 L380.0,304.1 L382.0,306.1 L384.0,308.1 L386.0,310.2 L388.0,312.2 L390.0,314.2 L392.0,316.2 L394.0,318.1 L396.0,320.0 L398.0,321.8 L400.0,323.5 L402.0,325.1 L404.0,326.6 L406.0,328.0 L408.0,329.3 L410.0,330.5 L412.0,331.6 L414.0,332.6 L416.0,333.4 L418.0,334.2 L420.0,334.8 L422.0,335.4 L424.0,335.9 L426.0,336.4 L428.0,336.8 L430.0,337.1 L432.0,337.5 L434.0,337.8 L436.0,338.2 L438.0,338.5 L440.0,338.8 L442.0,339.0 L444.0,339.3 L446.0,339.6 L448.0,339.9 L450.0,340.1 L452.0,340.4 L454.0,340.7 L456.0,341.0 L458.0,341.2 L460.0,341.5 L462.0,341.8 L464.0,342.1 L466.0,342.3 L468.0,342.6 L470.0,343.0 L472.0,343.3 L474.0,343.7 L476.0,344.1 L478.0,344.5 L480.0,344.9 L482.0,345.4 L484.0,346.0 L486.0,346.5 L488.0,347.2 L490.0,347.8 L492.0,348.6 L494.0,349.3 L496.0,350.1 L498.0,351.0 L500.0,351.9 L502.0,352.8 L504.0,353.7 L506.0,354.7 L508.0,355.7 L510.0,356.7 L512.0,357.7 L514.0,358.6 L516.0,359.5 L518.0,360.4 L520.0,361.1 L522.0,361.9 L524.0,362.6 L526.0,363.3 L528.0,363.9 L530.0,364.5 L532.0,365.1 L534.0,365.7 L536.0,366.2 L538.0,366.8 L540.0,367.2 L542.0,367.6 L544.0,368.0 L546.0,368.3 L548.0,368.5 L550.0,368.8 L552.0,369.0 L554.0,369.1 L556.0,369.2 L558.0,369.3 L560.0,369.4 L562.0,369.4 L564.0,369.5 L566.0,369.5 L568.0,369.5 L570.0,369.6 L572.0,369.6 L574.0,369.6 L576.0,369.6 L578.0,369.6 L580.0,369.7 L582.0,369.7 L584.0,369.7 L586.0,369.7 L588.0,369.7 L590.0,369.7 L592.0,369.7 L594.0,369.7 M210.7,193.5 L247.6,196.0 L269.3,208.2 L284.5,229.5 L293.0,245.1 L300.0,258.4 L302.0,262.0 L304.0,265.6 L306.0,269.0 L308.0,272.4 L310.0,275.7 L312.0,278.9 L314.0,282.0 L316.0,285.0 L318.0,287.8 L320.0,290.3 L322.0,292.6 L324.0,294.7 L326.0,296.7 L328.0,298.6 L330.0,300.4 L332.0,302.0 L334.0,303.6 L336.0,305.1 L338.0,306.6 L340.0,308.1 L342.0,309.6 L344.0,311.2 L346.0,312.9 L348.0,314.6 L350.0,316.4 L352.0,318.3 L354.0,320.2 L356.0,322.1 L358.0,324.0 L360.0,325.9 L362.0,327.8 L364.0,329.7 L366.0,331.6 L368.0,333.7 L370.0,335.9 L372.0,338.3 L374.0,340.8 L376.0,343.4 L378.0,346.1 L380.0,348.8 L382.0,351.4 L384.0,354.1 L386.0,356.8 L388.0,359.5 L390.0,362.2 L392.0,364.9 L394.0,367.4 L396.0,369.8 L398.0,372.0 L400.0,374.1 L402.0,375.9 L404.0,377.7 L406.0,379.3 L408.0,380.7 L410.0,382.1 L412.0,383.3 L414.0,384.4 L416.0,385.5 L418.0,386.5 L420.0,387.5 L422.0,388.5 L424.0,389.5 L426.0,390.5 L428.0,391.5 L430.0,392.5 L432.0,393.5 L434.0,394.5 L436.0,395.4 L438.0,396.2 L440.0,396.9 L442.0,397.6 L444.0,398.3 L446.0,398.9 L448.0,399.5 L450.0,400.1 L452.0,400.7 L454.0,401.2 L456.0,401.7 L458.0,402.2 L460.0,402.7 L462.0,403.1 L464.0,403.5 L466.0,403.8 L468.0,404.2 L470.0,404.5 L472.0,404.9 L474.0,405.3 L476.0,405.7 L478.0,406.1 L480.0,406.6 L482.0,407.1 L484.0,407.6 L486.0,408.1 L488.0,408.7 L490.0,409.3 L492.0,410.0 L494.0,410.6 L496.0,411.3 L498.0,412.1 L500.0,412.8 L502.0,413.6 L504.0,414.5 L506.0,415.3 L508.0,416.2 L510.0,417.1 L512.0,418.0 L514.0,418.9 L516.0,419.8 L518.0,420.7 L520.0,421.5 L522.0,422.4 L524.0,423.2 L526.0,423.9 L528.0,424.7 L530.0,425.3 L532.0,426.0 L534.0,426.6 L536.0,427.1 L538.0,427.6 L540.0,428.1 L542.0,428.5 L544.0,429.0 L546.0,429.3 L548.0,429.7 L550.0,430.1 L552.0,430.4 L554.0,430.6 L556.0,430.9 L558.0,431.1 L560.0,431.2 L562.0,431.3 L564.0,431.4 L566.0,431.5 L568.0,431.5 L570.0,431.6 L572.0,431.6 L574.0,431.7 L576.0,431.7 L578.0,431.8 L580.0,431.8 L582.0,431.8 L584.0,431.8 L586.0,431.9 L588.0,431.9 L590.0,431.9 L592.0,431.9 L594.0,431.9 M210.7,267.5 L247.3,269.0 L269.2,280.0 L285.3,300.4 L294.0,317.2 L300.0,329.3 L302.0,333.3 L304.0,337.3 L306.0,341.1 L308.0,344.8 L310.0,348.5 L312.0,352.1 L314.0,355.6 L316.0,358.9 L318.0,361.9 L320.0,364.6 L322.0,367.1 L324.0,369.4 L326.0,371.5 L328.0,373.4 L330.0,375.0 L332.0,376.5 L334.0,377.7 L336.0,378.8 L338.0,379.8 L340.0,380.7 L342.0,381.5 L344.0,382.1 L346.0,382.8 L348.0,383.3 L350.0,383.7 L352.0,384.1 L354.0,384.4 L356.0,384.5 L358.0,384.6 L360.0,384.5 L362.0,384.4 L364.0,384.3 L366.0,384.2 L368.0,384.3 L370.0,384.6 L372.0,385.1 L374.0,386.1 L376.0,387.5 L378.0,389.5 L380.0,392.0 L382.0,394.8 L384.0,397.9 L386.0,401.1 L388.0,404.4 L390.0,407.5 L392.0,410.5 L394.0,413.3 L396.0,415.8 L398.0,418.1 L400.0,420.1 L402.0,421.9 L404.0,423.5 L406.0,424.9 L408.0,426.2 L410.0,427.4 L412.0,428.6 L414.0,429.7 L416.0,430.8 L418.0,431.9 L420.0,432.8 L422.0,433.7 L424.0,434.6 L426.0,435.3 L428.0,436.0 L430.0,436.7 L432.0,437.3 L434.0,437.9 L436.0,438.4 L438.0,439.0 L440.0,439.6 L442.0,440.2 L444.0,440.8 L446.0,441.4 L448.0,442.0 L450.0,442.6 L452.0,443.1 L454.0,443.6 L456.0,444.1 L458.0,444.5 L460.0,444.9 L462.0,445.2 L464.0,445.5 L466.0,445.7 L468.0,446.0 L470.0,446.2 L472.0,446.5 L474.0,446.8 L476.0,447.1 L478.0,447.4 L480.0,447.8 L482.0,448.2 L484.0,448.6 L486.0,449.1 L488.0,449.5 L490.0,450.0 L492.0,450.6 L494.0,451.2 L496.0,451.8 L498.0,452.4 L500.0,453.1 L502.0,453.8 L504.0,454.5 L506.0,455.3 L508.0,456.1 L510.0,456.8 L512.0,457.7 L514.0,458.5 L516.0,459.3 L518.0,460.1 L520.0,460.9 L522.0,461.7 L524.0,462.5 L526.0,463.3 L528.0,464.1 L530.0,464.8 L532.0,465.5 L534.0,466.2 L536.0,466.9 L538.0,467.5 L540.0,468.0 L542.0,468.5 L544.0,468.9 L546.0,469.3 L548.0,469.6 L550.0,469.9 L552.0,470.1 L554.0,470.3 L556.0,470.4 L558.0,470.5 L560.0,470.6 L562.0,470.7 L564.0,470.7 L566.0,470.8 L568.0,470.8 L570.0,470.9 L572.0,470.9 L574.0,470.9 L576.0,471.0 L578.0,471.0 L580.0,471.0 L582.0,471.0 L584.0,471.1 L586.0,471.1 L588.0,471.1 L590.0,471.1 L592.0,471.1 L594.0,471.1 M210.7,307.5 L247.3,309.1 L269.2,321.5 L283.8,343.4 L294.0,365.3 L300.0,377.3 L302.0,381.0 L304.0,384.4 L306.0,387.8 L308.0,391.1 L310.0,394.5 L312.0,398.2 L314.0,401.9 L316.0,405.7 L318.0,409.5 L320.0,413.1 L322.0,416.6 L324.0,420.0 L326.0,423.2 L328.0,426.3 L330.0,429.3 L332.0,432.3 L334.0,435.0 L336.0,437.6 L338.0,439.9 L340.0,442.0 L342.0,444.0 L344.0,445.7 L346.0,447.3 L348.0,448.7 L350.0,449.9 L352.0,451.1 L354.0,452.2 L356.0,453.3 L358.0,454.4 L360.0,455.4 L362.0,456.4 L364.0,457.5 L366.0,458.7 L368.0,459.9 L370.0,461.4 L372.0,462.9 L374.0,464.6 L376.0,466.5 L378.0,468.5 L380.0,470.6 L382.0,472.8 L384.0,475.3 L386.0,477.9 L388.0,480.8 L390.0,483.7 L392.0,486.6 L394.0,489.3 L396.0,491.9 L398.0,494.2 L400.0,496.4 L402.0,498.4 L404.0,500.4 L406.0,502.4 L408.0,504.3 L410.0,506.0 L412.0,507.5 L414.0,508.9 L416.0,510.1 L418.0,511.2 L420.0,512.2 L422.0,513.1 L424.0,513.9 L426.0,514.7 L428.0,515.4 L430.0,516.1 L432.0,516.7 L434.0,517.3 L436.0,517.8 L438.0,518.3 L440.0,518.8 L442.0,519.3 L444.0,519.7 L446.0,520.1 L448.0,520.6 L450.0,520.9 L452.0,521.3 L454.0,521.7 L456.0,522.1 L458.0,522.4 L460.0,522.8 L462.0,523.1 L464.0,523.5 L466.0,523.8 L468.0,524.1 L470.0,524.5 L472.0,524.9 L474.0,525.2 L476.0,525.7 L478.0,526.1 L480.0,526.6 L482.0,527.1 L484.0,527.6 L486.0,528.2 L488.0,528.8 L490.0,529.4 L492.0,530.1 L494.0,530.9 L496.0,531.7 L498.0,532.5 L500.0,533.4 L502.0,534.2 L504.0,535.1 L506.0,536.0 L508.0,536.9 L510.0,537.8 L512.0,538.7 L514.0,539.6 L516.0,540.5 L518.0,541.4 L520.0,542.3 L522.0,543.1 L524.0,543.9 L526.0,544.6 L528.0,545.4 L530.0,546.1 L532.0,546.7 L534.0,547.3 L536.0,547.8 L538.0,548.4 L540.0,548.8 L542.0,549.2 L544.0,549.6 L546.0,549.9 L548.0,550.2 L550.0,550.4 L552.0,550.7 L554.0,550.8 L556.0,551.0 L558.0,551.1 L560.0,551.2 L562.0,551.3 L564.0,551.4 L566.0,551.5 L568.0,551.5 L570.0,551.6 L572.0,551.6 L574.0,551.7 L576.0,551.7 L578.0,551.8 L580.0,551.8 L582.0,551.8 L584.0,551.8 L586.0,551.9 L588.0,551.9 L590.0,551.9 L592.0,551.9 L594.0,551.9 M210.7,358.0 L247.3,359.5 L269.2,371.2 L276.0,382.0 L286.8,396.1 L295.5,412.1 L300.0,421.1 L302.0,425.2 L304.0,429.2 L306.0,433.1 L308.0,436.9 L310.0,440.5 L312.0,444.0 L314.0,447.4 L316.0,450.7 L318.0,454.0 L320.0,457.2 L322.0,460.3 L324.0,463.4 L326.0,466.2 L328.0,468.7 L330.0,471.0 L332.0,473.0 L334.0,474.8 L336.0,476.5 L338.0,478.2 L340.0,479.8 L342.0,481.4 L344.0,482.9 L346.0,484.5 L348.0,486.0 L350.0,487.5 L352.0,489.1 L354.0,490.6 L356.0,492.2 L358.0,493.8 L360.0,495.4 L362.0,497.1 L364.0,498.9 L366.0,500.8 L368.0,502.9 L370.0,505.1 L372.0,507.5 L374.0,510.1 L376.0,512.9 L378.0,515.9 L380.0,519.0 L382.0,522.3 L384.0,525.6 L386.0,529.1 L388.0,532.5 L390.0,535.8 L392.0,539.1 L394.0,542.2 L396.0,545.2 L398.0,548.0 L400.0,550.6 L402.0,553.1 L404.0,555.4 L406.0,557.6 L408.0,559.6 L410.0,561.6 L412.0,563.4 L414.0,565.2 L416.0,566.8 L418.0,568.3 L420.0,569.8 L422.0,571.2 L424.0,572.5 L426.0,573.7 L428.0,574.8 L430.0,575.7 L432.0,576.6 L434.0,577.4 L436.0,578.1 L438.0,578.7 L440.0,579.3 L442.0,579.9 L444.0,580.6 L446.0,581.2 L448.0,582.0 L450.0,582.7 L452.0,583.5 L454.0,584.3 L456.0,585.1 L458.0,585.9 L460.0,586.6 L462.0,587.3 L464.0,587.9 L466.0,588.5 L468.0,589.0 L470.0,589.6 L472.0,590.0 L474.0,590.5 L476.0,590.8 L478.0,591.2 L480.0,591.5 L482.0,591.8 L484.0,592.2 L486.0,592.5 L488.0,592.9 L490.0,593.4 L492.0,593.9 L494.0,594.5 L496.0,595.0 L498.0,595.7 L500.0,596.3 L502.0,596.9 L504.0,597.5 L506.0,598.1 L508.0,598.7 L510.0,599.3 L512.0,599.9 L514.0,600.5 L516.0,601.1 L518.0,601.7 L520.0,602.3 L522.0,602.9 L524.0,603.5 L526.0,604.1 L528.0,604.7 L530.0,605.3 L532.0,605.9 L534.0,606.4 L536.0,607.0 L538.0,607.5 L540.0,608.0 L542.0,608.4 L544.0,608.8 L546.0,609.1 L548.0,609.4 L550.0,609.6 L552.0,609.9 L554.0,610.0 L556.0,610.2 L558.0,610.3 L560.0,610.4 L562.0,610.5 L564.0,610.6 L566.0,610.7 L568.0,610.7 L570.0,610.8 L572.0,610.8 L574.0,610.9 L576.0,610.9 L578.0,611.0 L580.0,611.0 L582.0,611.0 L584.0,611.0 L586.0,611.1 L588.0,611.1 L590.0,611.1 L592.0,611.1 L594.0,611.1 M210.7,432.3 L247.3,434.0 L269.2,445.0 L285.3,466.1 L295.5,485.1 L300.0,492.0 L302.0,495.0 L304.0,497.9 L306.0,500.9 L308.0,503.9 L310.0,507.0 L312.0,510.1 L314.0,513.1 L316.0,515.9 L318.0,518.6 L320.0,521.0 L322.0,523.4 L324.0,525.5 L326.0,527.4 L328.0,529.2 L330.0,530.7 L332.0,532.1 L334.0,533.4 L336.0,534.6 L338.0,535.8 L340.0,536.9 L342.0,538.1 L344.0,539.2 L346.0,540.5 L348.0,541.8 L350.0,543.1 L352.0,544.6 L354.0,546.0 L356.0,547.6 L358.0,549.1 L360.0,550.8 L362.0,552.5 L364.0,554.3 L366.0,556.1 L368.0,558.1 L370.0,560.2 L372.0,562.4 L374.0,564.7 L376.0,567.0 L378.0,569.5 L380.0,572.0 L382.0,574.5 L384.0,577.0 L386.0,579.6 L388.0,582.1 L390.0,584.7 L392.0,587.2 L394.0,589.7 L396.0,592.1 L398.0,594.6 L400.0,597.1 L402.0,599.5 L404.0,601.9 L406.0,604.3 L408.0,606.7 L410.0,608.9 L412.0,611.0 L414.0,613.0 L416.0,614.8 L418.0,616.5 L420.0,618.1 L422.0,619.5 L424.0,620.9 L426.0,622.2 L428.0,623.4 L430.0,624.5 L432.0,625.5 L434.0,626.5 L436.0,627.3 L438.0,628.2 L440.0,628.9 L442.0,629.6 L444.0,630.2 L446.0,630.8 L448.0,631.4 L450.0,632.0 L452.0,632.5 L454.0,633.1 L456.0,633.7 L458.0,634.2 L460.0,634.7 L462.0,635.2 L464.0,635.6 L466.0,635.9 L468.0,636.3 L470.0,636.6 L472.0,637.0 L474.0,637.4 L476.0,637.8 L478.0,638.2 L480.0,638.7 L482.0,639.2 L484.0,639.7 L486.0,640.3 L488.0,640.9 L490.0,641.5 L492.0,642.3 L494.0,643.0 L496.0,643.8 L498.0,644.7 L500.0,645.6 L502.0,646.5 L504.0,647.4 L506.0,648.4 L508.0,649.3 L510.0,650.3 L512.0,651.3 L514.0,652.3 L516.0,653.4 L518.0,654.4 L520.0,655.4 L522.0,656.4 L524.0,657.4 L526.0,658.4 L528.0,659.3 L530.0,660.2 L532.0,661.0 L534.0,661.7 L536.0,662.4 L538.0,663.0 L540.0,663.6 L542.0,664.1 L544.0,664.6 L546.0,665.0 L548.0,665.4 L550.0,665.8 L552.0,666.1 L554.0,666.4 L556.0,666.6 L558.0,666.8 L560.0,666.9 L562.0,667.0 L564.0,667.1 L566.0,667.2 L568.0,667.2 L570.0,667.3 L572.0,667.3 L574.0,667.4 L576.0,667.4 L578.0,667.5 L580.0,667.5 L582.0,667.5 L584.0,667.5 L586.0,667.6 L588.0,667.6 L590.0,667.6 L592.0,667.6 L594.0,667.6 M210.7,493.6 L247.3,496.0 L269.2,505.6 L285.3,529.2 L295.5,548.2 L300.0,556.8 L302.0,560.6 L304.0,564.4 L306.0,568.0 L308.0,571.4 L310.0,574.6 L312.0,577.8 L314.0,580.8 L316.0,583.6 L318.0,586.3 L320.0,588.8 L322.0,591.2 L324.0,593.4 L326.0,595.4 L328.0,597.2 L330.0,598.7 L332.0,600.0 L334.0,601.1 L336.0,602.1 L338.0,603.1 L340.0,604.0 L342.0,604.8 L344.0,605.6 L346.0,606.4 L348.0,607.1 L350.0,607.7 L352.0,608.2 L354.0,608.7 L356.0,609.1 L358.0,609.4 L360.0,609.7 L362.0,610.0 L364.0,610.2 L366.0,610.5 L368.0,610.7 L370.0,611.0 L372.0,611.2 L374.0,611.6 L376.0,612.0 L378.0,612.7 L380.0,613.6 L382.0,615.0 L384.0,616.9 L386.0,619.2 L388.0,622.0 L390.0,625.1 L392.0,628.4 L394.0,631.7 L396.0,634.9 L398.0,638.0 L400.0,641.0 L402.0,643.7 L404.0,646.2 L406.0,648.6 L408.0,650.9 L410.0,653.0 L412.0,655.1 L414.0,657.1 L416.0,659.0 L418.0,660.9 L420.0,662.8 L422.0,664.6 L424.0,666.4 L426.0,668.2 L428.0,670.0 L430.0,671.7 L432.0,673.3 L434.0,674.8 L436.0,676.4 L438.0,677.8 L440.0,679.2 L442.0,680.5 L444.0,681.8 L446.0,683.0 L448.0,684.1 L450.0,685.2 L452.0,686.3 L454.0,687.4 L456.0,688.4 L458.0,689.5 L460.0,690.7 L462.0,691.9 L464.0,693.2 L466.0,694.5 L468.0,695.8 L470.0,697.0 L472.0,698.3 L474.0,699.4 L476.0,700.5 L478.0,701.6 L480.0,702.6 L482.0,703.6 L484.0,704.5 L486.0,705.5 L488.0,706.4 L490.0,707.4 L492.0,708.3 L494.0,709.3 L496.0,710.2 L498.0,711.0 L500.0,711.8 L502.0,712.6 L504.0,713.3 L506.0,714.0 L508.0,714.6 L510.0,715.2 L512.0,715.8 L514.0,716.3 L516.0,716.7 L518.0,717.1 L520.0,717.5 L522.0,717.9 L524.0,718.2 L526.0,718.4 L528.0,718.7 L530.0,718.9 L532.0,719.1 L534.0,719.2 L536.0,719.3 L538.0,719.4 L540.0,719.5 L542.0,719.6 L544.0,719.7 L546.0,719.7 L548.0,719.8 L550.0,719.8 L552.0,719.9 L554.0,719.9 L556.0,720.0 L558.0,720.0 L560.0,720.0 L562.0,720.1 L564.0,720.1 L566.0,720.2 L568.0,720.2 L570.0,720.2 L572.0,720.2 L574.0,720.3 L576.0,720.3 L578.0,720.3 L580.0,720.3 L582.0,720.4 L584.0,720.4 L586.0,720.4 L588.0,720.4 L590.0,720.4 L592.0,720.4 L594.0,720.4" stroke="#f00" stroke-width="5.6" stroke-linejoin="round" stroke-linecap="round" fill="none"/></g>
<path d="M872.4,40.6V143.8M868.8,40.6h7.2M868.8,143.8h7.2 M879.2,234.2V311.7M875.6,234.2h7.2M875.6,311.7h7.2 M886.1,169.7V221.3M882.5,169.7h7.2M882.5,221.3h7.2 M899.7,169.7V221.3M896.1,169.7h7.2M896.1,221.3h7.2 M920.2,156.8V208.4M916.6,156.8h7.2M916.6,208.4h7.2 M947.5,130.9V208.4M943.9,130.9h7.2M943.9,208.4h7.2 M1118.3,156.8V234.2M1114.7,156.8h7.2M1114.7,234.2h7.2 M1296.0,143.8V195.5M1292.4,143.8h7.2M1292.4,195.5h7.2 M873.8,721.8V766.7M870.2,721.8h7.2M870.2,766.7h7.2 M880.7,654.6V782.7M877.1,654.6h7.2M877.1,782.7h7.2 M887.5,651.4V734.6M883.9,651.4h7.2M883.9,734.6h7.2 M901.3,648.2V718.6M897.7,648.2h7.2M897.7,718.6h7.2 M921.9,657.8V689.8M918.3,657.8h7.2M918.3,689.8h7.2 M949.4,616.2V693.0M945.8,616.2h7.2M945.8,693.0h7.2 M1121.1,529.7V632.2M1117.5,529.7h7.2M1117.5,632.2h7.2 M1299.6,532.9V584.1M1296.0,532.9h7.2M1296.0,584.1h7.2" stroke="#000" stroke-width="3.5" stroke-linecap="round" fill="none"/>
<path d="M867.0,86.8h10.8v10.8h-10.8z M873.8,267.6h10.8v10.8h-10.8z M880.7,190.1h10.8v10.8h-10.8z M894.3,190.1h10.8v10.8h-10.8z M914.8,177.2h10.8v10.8h-10.8z M942.1,164.3h10.8v10.8h-10.8z M1112.9,190.1h10.8v10.8h-10.8z M1290.6,164.3h10.8v10.8h-10.8z M868.4,738.8h10.8v10.8h-10.8z M875.3,713.2h10.8v10.8h-10.8z M882.1,687.6h10.8v10.8h-10.8z M895.9,678.0h10.8v10.8h-10.8z M916.5,668.4h10.8v10.8h-10.8z M944.0,649.2h10.8v10.8h-10.8z M1115.7,575.5h10.8v10.8h-10.8z M1294.2,553.1h10.8v10.8h-10.8z" fill="#000"/>
<path d="M611.35,744.7V301.6H604.9L614.6,282.2L624.3,301.6H617.85V744.7Z" fill="#000"/>
<g fill="rgb(0,172,246)" fill-opacity="0.8"><path d="M372.9,638.7L381.9,638.7L366.6,197.2L375.7,197.2L361,170L348.3,197.6L357.6,197.4L372.9,638.7Z"/></g>

<path transform="translate(134.88,809.65) scale(0.01855,-0.01855)" d="M763,0L583,0L583,1147Q518,1085 465,1054Q412,1023 359,992Q306,961 222,930L222,1104Q373,1175 429.5,1225.5Q486,1276 542.5,1326.5Q599,1377 646,1472L763,1472Z"/><text transform="translate(156.01,809.65) scale(1,1.04)" font-size="38">0</text><text transform="translate(177.13,791.05) scale(1,1.04)" font-size="23.5">0</text>
<path transform="translate(134.88,748.11) scale(0.01855,-0.01855)" d="M763,0L583,0L583,1147Q518,1085 465,1054Q412,1023 359,992Q306,961 222,930L222,1104Q373,1175 429.5,1225.5Q486,1276 542.5,1326.5Q599,1377 646,1472L763,1472Z"/><text transform="translate(156.01,748.11) scale(1,1.04)" font-size="38">0</text><path transform="translate(177.13,729.50) scale(0.01147,-0.01147)" d="M763,0L583,0L583,1147Q518,1085 465,1054Q412,1023 359,992Q306,961 222,930L222,1104Q373,1175 429.5,1225.5Q486,1276 542.5,1326.5Q599,1377 646,1472L763,1472Z"/>
<path transform="translate(134.88,686.56) scale(0.01855,-0.01855)" d="M763,0L583,0L583,1147Q518,1085 465,1054Q412,1023 359,992Q306,961 222,930L222,1104Q373,1175 429.5,1225.5Q486,1276 542.5,1326.5Q599,1377 646,1472L763,1472Z"/><text transform="translate(156.01,686.56) scale(1,1.04)" font-size="38">0</text><text transform="translate(177.13,667.96) scale(1,1.04)" font-size="23.5">2</text>
<path transform="translate(134.88,625.01) scale(0.01855,-0.01855)" d="M763,0L583,0L583,1147Q518,1085 465,1054Q412,1023 359,992Q306,961 222,930L222,1104Q373,1175 429.5,1225.5Q486,1276 542.5,1326.5Q599,1377 646,1472L763,1472Z"/><text transform="translate(156.01,625.01) scale(1,1.04)" font-size="38">0</text><text transform="translate(177.13,606.41) scale(1,1.04)" font-size="23.5">3</text>
<path transform="translate(134.88,563.47) scale(0.01855,-0.01855)" d="M763,0L583,0L583,1147Q518,1085 465,1054Q412,1023 359,992Q306,961 222,930L222,1104Q373,1175 429.5,1225.5Q486,1276 542.5,1326.5Q599,1377 646,1472L763,1472Z"/><text transform="translate(156.01,563.47) scale(1,1.04)" font-size="38">0</text><text transform="translate(177.13,544.87) scale(1,1.04)" font-size="23.5">4</text>
<path transform="translate(134.88,501.93) scale(0.01855,-0.01855)" d="M763,0L583,0L583,1147Q518,1085 465,1054Q412,1023 359,992Q306,961 222,930L222,1104Q373,1175 429.5,1225.5Q486,1276 542.5,1326.5Q599,1377 646,1472L763,1472Z"/><text transform="translate(156.01,501.93) scale(1,1.04)" font-size="38">0</text><text transform="translate(177.13,483.32) scale(1,1.04)" font-size="23.5">5</text>
<path transform="translate(134.88,440.38) scale(0.01855,-0.01855)" d="M763,0L583,0L583,1147Q518,1085 465,1054Q412,1023 359,992Q306,961 222,930L222,1104Q373,1175 429.5,1225.5Q486,1276 542.5,1326.5Q599,1377 646,1472L763,1472Z"/><text transform="translate(156.01,440.38) scale(1,1.04)" font-size="38">0</text><text transform="translate(177.13,421.78) scale(1,1.04)" font-size="23.5">6</text>
<path transform="translate(134.88,378.84) scale(0.01855,-0.01855)" d="M763,0L583,0L583,1147Q518,1085 465,1054Q412,1023 359,992Q306,961 222,930L222,1104Q373,1175 429.5,1225.5Q486,1276 542.5,1326.5Q599,1377 646,1472L763,1472Z"/><text transform="translate(156.01,378.84) scale(1,1.04)" font-size="38">0</text><text transform="translate(177.13,360.24) scale(1,1.04)" font-size="23.5">7</text>
<path transform="translate(134.88,317.29) scale(0.01855,-0.01855)" d="M763,0L583,0L583,1147Q518,1085 465,1054Q412,1023 359,992Q306,961 222,930L222,1104Q373,1175 429.5,1225.5Q486,1276 542.5,1326.5Q599,1377 646,1472L763,1472Z"/><text transform="translate(156.01,317.29) scale(1,1.04)" font-size="38">0</text><text transform="translate(177.13,298.69) scale(1,1.04)" font-size="23.5">8</text>
<path transform="translate(134.88,255.75) scale(0.01855,-0.01855)" d="M763,0L583,0L583,1147Q518,1085 465,1054Q412,1023 359,992Q306,961 222,930L222,1104Q373,1175 429.5,1225.5Q486,1276 542.5,1326.5Q599,1377 646,1472L763,1472Z"/><text transform="translate(156.01,255.75) scale(1,1.04)" font-size="38">0</text><text transform="translate(177.13,237.15) scale(1,1.04)" font-size="23.5">9</text>
<path transform="translate(121.81,194.20) scale(0.01855,-0.01855)" d="M763,0L583,0L583,1147Q518,1085 465,1054Q412,1023 359,992Q306,961 222,930L222,1104Q373,1175 429.5,1225.5Q486,1276 542.5,1326.5Q599,1377 646,1472L763,1472Z"/><text transform="translate(142.94,194.20) scale(1,1.04)" font-size="38">0</text><path transform="translate(164.07,175.60) scale(0.01147,-0.01147)" d="M763,0L583,0L583,1147Q518,1085 465,1054Q412,1023 359,992Q306,961 222,930L222,1104Q373,1175 429.5,1225.5Q486,1276 542.5,1326.5Q599,1377 646,1472L763,1472Z"/><text transform="translate(177.13,175.60) scale(1,1.04)" font-size="23.5">0</text>
<path transform="translate(121.81,132.66) scale(0.01855,-0.01855)" d="M763,0L583,0L583,1147Q518,1085 465,1054Q412,1023 359,992Q306,961 222,930L222,1104Q373,1175 429.5,1225.5Q486,1276 542.5,1326.5Q599,1377 646,1472L763,1472Z"/><text transform="translate(142.94,132.66) scale(1,1.04)" font-size="38">0</text><path transform="translate(164.07,114.06) scale(0.01147,-0.01147)" d="M763,0L583,0L583,1147Q518,1085 465,1054Q412,1023 359,992Q306,961 222,930L222,1104Q373,1175 429.5,1225.5Q486,1276 542.5,1326.5Q599,1377 646,1472L763,1472Z"/><path transform="translate(177.13,114.06) scale(0.01147,-0.01147)" d="M763,0L583,0L583,1147Q518,1085 465,1054Q412,1023 359,992Q306,961 222,930L222,1104Q373,1175 429.5,1225.5Q486,1276 542.5,1326.5Q599,1377 646,1472L763,1472Z"/>
<path transform="translate(121.81,71.11) scale(0.01855,-0.01855)" d="M763,0L583,0L583,1147Q518,1085 465,1054Q412,1023 359,992Q306,961 222,930L222,1104Q373,1175 429.5,1225.5Q486,1276 542.5,1326.5Q599,1377 646,1472L763,1472Z"/><text transform="translate(142.94,71.11) scale(1,1.04)" font-size="38">0</text><path transform="translate(164.07,52.51) scale(0.01147,-0.01147)" d="M763,0L583,0L583,1147Q518,1085 465,1054Q412,1023 359,992Q306,961 222,930L222,1104Q373,1175 429.5,1225.5Q486,1276 542.5,1326.5Q599,1377 646,1472L763,1472Z"/><text transform="translate(177.13,52.51) scale(1,1.04)" font-size="23.5">2</text>
<path transform="translate(268.73,848.00) scale(0.01855,-0.01855)" d="M763,0L583,0L583,1147Q518,1085 465,1054Q412,1023 359,992Q306,961 222,930L222,1104Q373,1175 429.5,1225.5Q486,1276 542.5,1326.5Q599,1377 646,1472L763,1472Z"/><text transform="translate(289.85,848.00) scale(1,1.04)" font-size="38">0</text><text transform="translate(310.98,830.00) scale(1,1.04)" font-size="23.5">-</text><text transform="translate(318.81,830.00) scale(1,1.04)" font-size="23.5">2</text>
<path transform="translate(397.53,848.00) scale(0.01855,-0.01855)" d="M763,0L583,0L583,1147Q518,1085 465,1054Q412,1023 359,992Q306,961 222,930L222,1104Q373,1175 429.5,1225.5Q486,1276 542.5,1326.5Q599,1377 646,1472L763,1472Z"/><text transform="translate(418.65,848.00) scale(1,1.04)" font-size="38">0</text><text transform="translate(439.78,830.00) scale(1,1.04)" font-size="23.5">-</text><path transform="translate(447.61,830.00) scale(0.01147,-0.01147)" d="M763,0L583,0L583,1147Q518,1085 465,1054Q412,1023 359,992Q306,961 222,930L222,1104Q373,1175 429.5,1225.5Q486,1276 542.5,1326.5Q599,1377 646,1472L763,1472Z"/>
<path transform="translate(530.24,848.00) scale(0.01855,-0.01855)" d="M763,0L583,0L583,1147Q518,1085 465,1054Q412,1023 359,992Q306,961 222,930L222,1104Q373,1175 429.5,1225.5Q486,1276 542.5,1326.5Q599,1377 646,1472L763,1472Z"/><text transform="translate(551.37,848.00) scale(1,1.04)" font-size="38">0</text><text transform="translate(572.50,830.00) scale(1,1.04)" font-size="23.5">0</text>
<text x="-2.5" y="48.5" font-size="64">(a)</text>
<text transform="translate(84.3,564.6) rotate(-90)" font-size="49.1">Intensity [a.u.]</text>
<text x="299.3" y="935" font-size="49">q<tspan font-size="29" dy="16.7">y</tspan><tspan dy="-16.7"> </tspan><tspan stroke="#000" stroke-width="1.5">(</tspan>nm<tspan dy="-24.3" font-size="48">- </tspan><tspan dy="24.3" stroke="#000" stroke-width="1.5">)</tspan></text>
<path transform="translate(454.9,910.7) scale(0.02344,-0.02344)" d="M763,0L583,0L583,1147Q518,1085 465,1054Q412,1023 359,992Q306,961 222,930L222,1104Q373,1175 429.5,1225.5Q486,1276 542.5,1326.5Q599,1377 646,1472L763,1472Z"/>
<text transform="translate(803.19,347.80) scale(1,1.04)" font-size="34">3</text><text transform="translate(822.10,347.80) scale(1,1.04)" font-size="34">0</text>
<text transform="translate(803.19,283.25) scale(1,1.04)" font-size="34">3</text><text transform="translate(822.10,283.25) scale(1,1.04)" font-size="34">5</text>
<text transform="translate(803.19,218.70) scale(1,1.04)" font-size="34">4</text><text transform="translate(822.10,218.70) scale(1,1.04)" font-size="34">0</text>
<text transform="translate(803.19,154.15) scale(1,1.04)" font-size="34">4</text><text transform="translate(822.10,154.15) scale(1,1.04)" font-size="34">5</text>
<text transform="translate(803.19,89.60) scale(1,1.04)" font-size="34">5</text><text transform="translate(822.10,89.60) scale(1,1.04)" font-size="34">0</text>
<text transform="translate(862.95,401.00) scale(1,1.04)" font-size="34">0</text>
<text transform="translate(931.26,401.00) scale(1,1.04)" font-size="34">5</text>
<path transform="translate(990.13,401.00) scale(0.01660,-0.01660)" d="M763,0L583,0L583,1147Q518,1085 465,1054Q412,1023 359,992Q306,961 222,930L222,1104Q373,1175 429.5,1225.5Q486,1276 542.5,1326.5Q599,1377 646,1472L763,1472Z"/><text transform="translate(1009.03,401.00) scale(1,1.04)" font-size="34">0</text>
<path transform="translate(1058.44,401.00) scale(0.01660,-0.01660)" d="M763,0L583,0L583,1147Q518,1085 465,1054Q412,1023 359,992Q306,961 222,930L222,1104Q373,1175 429.5,1225.5Q486,1276 542.5,1326.5Q599,1377 646,1472L763,1472Z"/><text transform="translate(1077.35,401.00) scale(1,1.04)" font-size="34">5</text>
<text transform="translate(1126.76,401.00) scale(1,1.04)" font-size="34">2</text><text transform="translate(1145.66,401.00) scale(1,1.04)" font-size="34">0</text>
<text transform="translate(1195.07,401.00) scale(1,1.04)" font-size="34">2</text><text transform="translate(1213.97,401.00) scale(1,1.04)" font-size="34">5</text>
<text transform="translate(1263.39,401.00) scale(1,1.04)" font-size="34">3</text><text transform="translate(1282.29,401.00) scale(1,1.04)" font-size="34">0</text>
<text x="820.6" y="451.6" font-size="44.7">Solvent annealing time (h)</text>
<text transform="translate(765.3,330.2) rotate(-90)" font-size="45">Radius (nm)</text>
<text x="639.5" y="46" font-size="64">(b)</text>
<path transform="translate(785.29,847.20) scale(0.01660,-0.01660)" d="M763,0L583,0L583,1147Q518,1085 465,1054Q412,1023 359,992Q306,961 222,930L222,1104Q373,1175 429.5,1225.5Q486,1276 542.5,1326.5Q599,1377 646,1472L763,1472Z"/><text transform="translate(804.19,847.20) scale(1,1.04)" font-size="34">0</text><text transform="translate(823.10,847.20) scale(1,1.04)" font-size="34">0</text>
<path transform="translate(785.29,767.15) scale(0.01660,-0.01660)" d="M763,0L583,0L583,1147Q518,1085 465,1054Q412,1023 359,992Q306,961 222,930L222,1104Q373,1175 429.5,1225.5Q486,1276 542.5,1326.5Q599,1377 646,1472L763,1472Z"/><text transform="translate(804.19,767.15) scale(1,1.04)" font-size="34">2</text><text transform="translate(823.10,767.15) scale(1,1.04)" font-size="34">5</text>
<path transform="translate(785.29,687.10) scale(0.01660,-0.01660)" d="M763,0L583,0L583,1147Q518,1085 465,1054Q412,1023 359,992Q306,961 222,930L222,1104Q373,1175 429.5,1225.5Q486,1276 542.5,1326.5Q599,1377 646,1472L763,1472Z"/><text transform="translate(804.19,687.10) scale(1,1.04)" font-size="34">5</text><text transform="translate(823.10,687.10) scale(1,1.04)" font-size="34">0</text>
<path transform="translate(785.29,607.05) scale(0.01660,-0.01660)" d="M763,0L583,0L583,1147Q518,1085 465,1054Q412,1023 359,992Q306,961 222,930L222,1104Q373,1175 429.5,1225.5Q486,1276 542.5,1326.5Q599,1377 646,1472L763,1472Z"/><text transform="translate(804.19,607.05) scale(1,1.04)" font-size="34">7</text><text transform="translate(823.10,607.05) scale(1,1.04)" font-size="34">5</text>
<text transform="translate(785.29,527.00) scale(1,1.04)" font-size="34">2</text><text transform="translate(804.19,527.00) scale(1,1.04)" font-size="34">0</text><text transform="translate(823.10,527.00) scale(1,1.04)" font-size="34">0</text>
<text transform="translate(864.35,873.40) scale(1,1.04)" font-size="34">0</text>
<text transform="translate(933.03,873.40) scale(1,1.04)" font-size="34">5</text>
<path transform="translate(992.27,873.40) scale(0.01660,-0.01660)" d="M763,0L583,0L583,1147Q518,1085 465,1054Q412,1023 359,992Q306,961 222,930L222,1104Q373,1175 429.5,1225.5Q486,1276 542.5,1326.5Q599,1377 646,1472L763,1472Z"/><text transform="translate(1011.17,873.40) scale(1,1.04)" font-size="34">0</text>
<path transform="translate(1060.95,873.40) scale(0.01660,-0.01660)" d="M763,0L583,0L583,1147Q518,1085 465,1054Q412,1023 359,992Q306,961 222,930L222,1104Q373,1175 429.5,1225.5Q486,1276 542.5,1326.5Q599,1377 646,1472L763,1472Z"/><text transform="translate(1079.86,873.40) scale(1,1.04)" font-size="34">5</text>
<text transform="translate(1129.64,873.40) scale(1,1.04)" font-size="34">2</text><text transform="translate(1148.54,873.40) scale(1,1.04)" font-size="34">0</text>
<text transform="translate(1198.32,873.40) scale(1,1.04)" font-size="34">2</text><text transform="translate(1217.22,873.40) scale(1,1.04)" font-size="34">5</text>
<text transform="translate(1267.01,873.40) scale(1,1.04)" font-size="34">3</text><text transform="translate(1285.91,873.40) scale(1,1.04)" font-size="34">0</text>
<text x="818.8" y="925.7" font-size="45.45">Solvent annealing time (h)</text>
<text transform="translate(761.8,808.4) rotate(-90)" font-size="45.1">Distance (nm)</text>
<text x="640.5" y="526" font-size="64">(c)</text>
</svg></body></html>
